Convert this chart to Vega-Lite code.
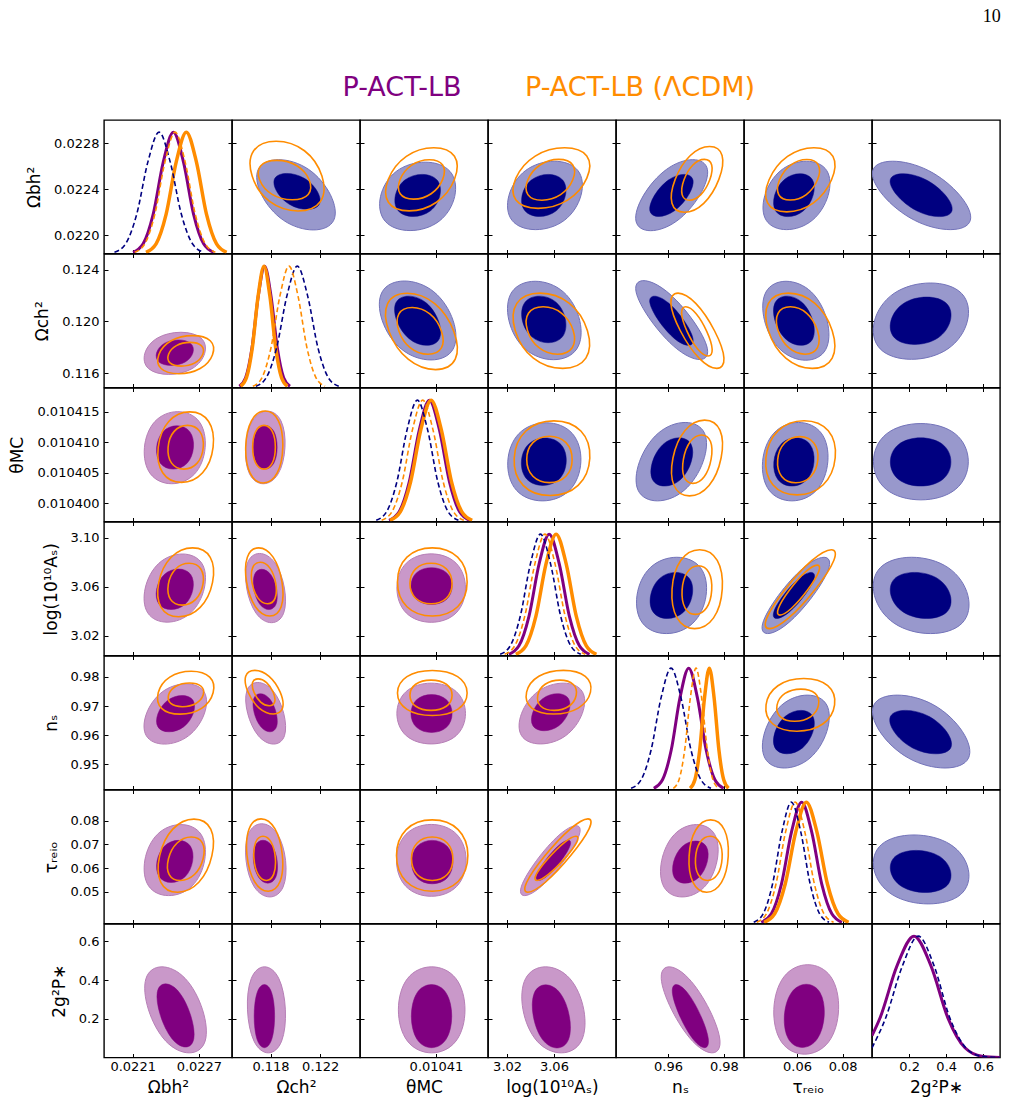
{
"$schema":"https://vega.github.io/schema/vega-lite/v6.json",
"background":"white",
"padding":{"left":8,"top":8,"right":5,"bottom":5},
"title":{"text":"10","anchor":"end","font":"Liberation Serif","fontSize":18,"fontWeight":"normal","color":"black","offset":30},
"config":{
 "view":{"stroke":"black","strokeWidth":1.4},
 "axis":{"offset":-4,"tickSize":8,"tickColor":"black","tickWidth":1,"domain":false,"grid":false,"labelFont":"DejaVu Sans","labelFontSize":13,"labelColor":"black","labelFlush":false,"labelOverlap":false,"titleFont":"DejaVu Sans","titleFontSize":17,"titleFontWeight":"normal","titleColor":"black"},
 "axisX":{"labelPadding":3,"titlePadding":6},
 "axisY":{"labelPadding":5,"titlePadding":10}
},
"datasets":{
"d1":[
{"s":"n","x":0.021935,"y":0.01},{"s":"n","x":0.022036,"y":0.08},{"s":"n","x":0.0221369,"y":0.325},{"s":"n","x":0.0222379,"y":0.755},{"s":"n","x":0.0223388,"y":1},{"s":"n","x":0.0224398,"y":0.755},{"s":"n","x":0.0225407,"y":0.325},{"s":"n","x":0.0226417,"y":0.08},{"s":"n","x":0.0227426,"y":0.01},
{"s":"p","x":0.0221033,"y":0.01},{"s":"p","x":0.0221947,"y":0.08},{"s":"p","x":0.022286,"y":0.325},{"s":"p","x":0.0223774,"y":0.755},{"s":"p","x":0.0224687,"y":1},{"s":"p","x":0.02256,"y":0.755},{"s":"p","x":0.0226514,"y":0.325},{"s":"p","x":0.0227428,"y":0.08},{"s":"p","x":0.0228341,"y":0.01},
{"s":"o","x":0.0222205,"y":0.01},{"s":"o","x":0.0223119,"y":0.08},{"s":"o","x":0.0224032,"y":0.325},{"s":"o","x":0.0224946,"y":0.755},{"s":"o","x":0.0225859,"y":1},{"s":"o","x":0.0226773,"y":0.755},{"s":"o","x":0.0227686,"y":0.325},{"s":"o","x":0.02286,"y":0.08},{"s":"o","x":0.0229513,"y":0.01},
{"s":"q","x":0.0221184,"y":0.01},{"s":"q","x":0.0222098,"y":0.08},{"s":"q","x":0.0223011,"y":0.325},{"s":"q","x":0.0223925,"y":0.755},{"s":"q","x":0.0224838,"y":1},{"s":"q","x":0.0225752,"y":0.755},{"s":"q","x":0.0226665,"y":0.325},{"s":"q","x":0.0227579,"y":0.08},{"s":"q","x":0.0228492,"y":0.01}],
"d2":[
{"s":"o","x":0.115591,"y":0.01},{"s":"o","x":0.116062,"y":0.08},{"s":"o","x":0.116533,"y":0.325},{"s":"o","x":0.117004,"y":0.755},{"s":"o","x":0.117475,"y":1},{"s":"o","x":0.117946,"y":0.755},{"s":"o","x":0.118417,"y":0.325},{"s":"o","x":0.118888,"y":0.08},{"s":"o","x":0.119359,"y":0.01},
{"s":"p","x":0.115487,"y":0.01},{"s":"p","x":0.115997,"y":0.08},{"s":"p","x":0.116507,"y":0.325},{"s":"p","x":0.117017,"y":0.755},{"s":"p","x":0.117527,"y":1},{"s":"p","x":0.118037,"y":0.755},{"s":"p","x":0.118547,"y":0.325},{"s":"p","x":0.119057,"y":0.08},{"s":"p","x":0.119567,"y":0.01},
{"s":"q","x":0.11658,"y":0.01},{"s":"q","x":0.117306,"y":0.08},{"s":"q","x":0.118032,"y":0.325},{"s":"q","x":0.118758,"y":0.755},{"s":"q","x":0.119484,"y":1},{"s":"q","x":0.12021,"y":0.755},{"s":"q","x":0.120936,"y":0.325},{"s":"q","x":0.121662,"y":0.08},{"s":"q","x":0.122388,"y":0.01},
{"s":"n","x":0.116817,"y":0.01},{"s":"n","x":0.117651,"y":0.08},{"s":"n","x":0.118485,"y":0.325},{"s":"n","x":0.119319,"y":0.755},{"s":"n","x":0.120153,"y":1},{"s":"n","x":0.120987,"y":0.755},{"s":"n","x":0.121821,"y":0.325},{"s":"n","x":0.122655,"y":0.08},{"s":"n","x":0.123489,"y":0.01}],
"d3":[
{"s":"n","x":0.01039978,"y":0.01},{"s":"n","x":0.01040154,"y":0.08},{"s":"n","x":0.0104033,"y":0.325},{"s":"n","x":0.01040505,"y":0.755},{"s":"n","x":0.01040681,"y":1},{"s":"n","x":0.01040857,"y":0.755},{"s":"n","x":0.01041032,"y":0.325},{"s":"n","x":0.01041208,"y":0.08},{"s":"n","x":0.01041384,"y":0.01},
{"s":"q","x":0.0104007,"y":0.01},{"s":"q","x":0.01040246,"y":0.08},{"s":"q","x":0.01040422,"y":0.325},{"s":"q","x":0.01040597,"y":0.755},{"s":"q","x":0.01040773,"y":1},{"s":"q","x":0.01040949,"y":0.755},{"s":"q","x":0.01041124,"y":0.325},{"s":"q","x":0.010413,"y":0.08},{"s":"q","x":0.01041476,"y":0.01},
{"s":"p","x":0.01040197,"y":0.01},{"s":"p","x":0.0104037,"y":0.08},{"s":"p","x":0.01040542,"y":0.325},{"s":"p","x":0.01040715,"y":0.755},{"s":"p","x":0.01040887,"y":1},{"s":"p","x":0.01041059,"y":0.755},{"s":"p","x":0.01041232,"y":0.325},{"s":"p","x":0.01041404,"y":0.08},{"s":"p","x":0.01041577,"y":0.01},
{"s":"o","x":0.01040213,"y":0.01},{"s":"o","x":0.01040389,"y":0.08},{"s":"o","x":0.01040565,"y":0.325},{"s":"o","x":0.0104074,"y":0.755},{"s":"o","x":0.01040916,"y":1},{"s":"o","x":0.01041092,"y":0.755},{"s":"o","x":0.01041267,"y":0.325},{"s":"o","x":0.01041443,"y":0.08},{"s":"o","x":0.01041619,"y":0.01}],
"d4":[
{"s":"n","x":3.01408,"y":0.01},{"s":"n","x":3.02269,"y":0.08},{"s":"n","x":3.0313,"y":0.325},{"s":"n","x":3.03991,"y":0.755},{"s":"n","x":3.04851,"y":1},{"s":"n","x":3.05712,"y":0.755},{"s":"n","x":3.06573,"y":0.325},{"s":"n","x":3.07434,"y":0.08},{"s":"n","x":3.08294,"y":0.01},
{"s":"q","x":3.01791,"y":0.01},{"s":"q","x":3.02652,"y":0.08},{"s":"q","x":3.03513,"y":0.325},{"s":"q","x":3.04373,"y":0.755},{"s":"q","x":3.05234,"y":1},{"s":"q","x":3.06095,"y":0.755},{"s":"q","x":3.06956,"y":0.325},{"s":"q","x":3.07816,"y":0.08},{"s":"q","x":3.08677,"y":0.01},
{"s":"p","x":3.02152,"y":0.01},{"s":"p","x":3.03012,"y":0.08},{"s":"p","x":3.03873,"y":0.325},{"s":"p","x":3.04734,"y":0.755},{"s":"p","x":3.05595,"y":1},{"s":"p","x":3.06455,"y":0.755},{"s":"p","x":3.07316,"y":0.325},{"s":"p","x":3.08177,"y":0.08},{"s":"p","x":3.09038,"y":0.01},
{"s":"o","x":3.02742,"y":0.01},{"s":"o","x":3.03603,"y":0.08},{"s":"o","x":3.04463,"y":0.325},{"s":"o","x":3.05324,"y":0.755},{"s":"o","x":3.06185,"y":1},{"s":"o","x":3.07046,"y":0.755},{"s":"o","x":3.07906,"y":0.325},{"s":"o","x":3.08767,"y":0.08},{"s":"o","x":3.09628,"y":0.01}],
"d5":[
{"s":"n","x":0.946805,"y":0.01},{"s":"n","x":0.950377,"y":0.08},{"s":"n","x":0.95395,"y":0.325},{"s":"n","x":0.957522,"y":0.755},{"s":"n","x":0.961094,"y":1},{"s":"n","x":0.964666,"y":0.755},{"s":"n","x":0.968239,"y":0.325},{"s":"n","x":0.971811,"y":0.08},{"s":"n","x":0.975383,"y":0.01},
{"s":"p","x":0.95491,"y":0.01},{"s":"p","x":0.958036,"y":0.08},{"s":"p","x":0.961162,"y":0.325},{"s":"p","x":0.964288,"y":0.755},{"s":"p","x":0.967414,"y":1},{"s":"p","x":0.97054,"y":0.755},{"s":"p","x":0.973666,"y":0.325},{"s":"p","x":0.976792,"y":0.08},{"s":"p","x":0.979918,"y":0.01},
{"s":"q","x":0.961919,"y":0.01},{"s":"q","x":0.963946,"y":0.08},{"s":"q","x":0.965972,"y":0.325},{"s":"q","x":0.967999,"y":0.755},{"s":"q","x":0.970025,"y":1},{"s":"q","x":0.972052,"y":0.755},{"s":"q","x":0.974078,"y":0.325},{"s":"q","x":0.976105,"y":0.08},{"s":"q","x":0.978131,"y":0.01},
{"s":"o","x":0.967918,"y":0.01},{"s":"o","x":0.969635,"y":0.08},{"s":"o","x":0.971353,"y":0.325},{"s":"o","x":0.97307,"y":0.755},{"s":"o","x":0.974788,"y":1},{"s":"o","x":0.976506,"y":0.755},{"s":"o","x":0.978223,"y":0.325},{"s":"o","x":0.979941,"y":0.08},{"s":"o","x":0.981658,"y":0.01}],
"d6":[
{"s":"n","x":0.04097,"y":0.01},{"s":"n","x":0.045101,"y":0.08},{"s":"n","x":0.049232,"y":0.325},{"s":"n","x":0.053363,"y":0.755},{"s":"n","x":0.057494,"y":1},{"s":"n","x":0.061625,"y":0.755},{"s":"n","x":0.065756,"y":0.325},{"s":"n","x":0.069887,"y":0.08},{"s":"n","x":0.074018,"y":0.01},
{"s":"q","x":0.04232,"y":0.01},{"s":"q","x":0.046535,"y":0.08},{"s":"q","x":0.05075,"y":0.325},{"s":"q","x":0.054965,"y":0.755},{"s":"q","x":0.05918,"y":1},{"s":"q","x":0.063395,"y":0.755},{"s":"q","x":0.06761,"y":0.325},{"s":"q","x":0.071825,"y":0.08},{"s":"q","x":0.07604,"y":0.01},
{"s":"p","x":0.044287,"y":0.01},{"s":"p","x":0.048713,"y":0.08},{"s":"p","x":0.053139,"y":0.325},{"s":"p","x":0.057564,"y":0.755},{"s":"p","x":0.06199,"y":1},{"s":"p","x":0.066416,"y":0.755},{"s":"p","x":0.070842,"y":0.325},{"s":"p","x":0.075267,"y":0.08},{"s":"p","x":0.079693,"y":0.01},
{"s":"o","x":0.045523,"y":0.01},{"s":"o","x":0.05016,"y":0.08},{"s":"o","x":0.054796,"y":0.325},{"s":"o","x":0.059433,"y":0.755},{"s":"o","x":0.064069,"y":1},{"s":"o","x":0.068706,"y":0.755},{"s":"o","x":0.073342,"y":0.325},{"s":"o","x":0.077979,"y":0.08},{"s":"o","x":0.082615,"y":0.01}],
"d7":[
{"s":"p","x":0,"y":0.18},{"s":"p","x":0.0431,"y":0.325},{"s":"p","x":0.1347,"y":0.755},{"s":"p","x":0.2263,"y":1},{"s":"p","x":0.3179,"y":0.755},{"s":"p","x":0.4095,"y":0.325},{"s":"p","x":0.5011,"y":0.08},{"s":"p","x":0.5927,"y":0.01},{"s":"p","x":0.69,"y":0},
{"s":"n","x":0,"y":0.08},{"s":"n","x":0.0735,"y":0.325},{"s":"n","x":0.1639,"y":0.755},{"s":"n","x":0.2493,"y":1},{"s":"n","x":0.3347,"y":0.755},{"s":"n","x":0.42,"y":0.325},{"s":"n","x":0.5054,"y":0.08},{"s":"n","x":0.5908,"y":0.01},{"s":"n","x":0.69,"y":0}],
"r1c2":[{"k":"a","i":0,"x":0.12155,"y":0.022683},{"k":"a","i":1,"x":0.1155,"y":0.022683},{"k":"a","i":2,"x":0.11855,"y":0.022017},{"k":"a","i":3,"x":0.1246,"y":0.022017},{"k":"b","i":0,"x":0.121015,"y":0.02255},{"k":"b","i":1,"x":0.117455,"y":0.02255},{"k":"b","i":2,"x":0.119249,"y":0.022209},{"k":"b","i":3,"x":0.122809,"y":0.022209},{"k":"c","i":0,"x":0.121429,"y":0.022843},{"k":"c","i":1,"x":0.115302,"y":0.022843},{"k":"c","i":2,"x":0.117229,"y":0.022182},{"k":"c","i":3,"x":0.123356,"y":0.022182},{"k":"d","i":0,"x":0.120615,"y":0.022665},{"k":"d","i":1,"x":0.116263,"y":0.022665},{"k":"d","i":2,"x":0.117631,"y":0.022291},{"k":"d","i":3,"x":0.121983,"y":0.022291}],
"r1c3":[{"k":"a","i":0,"x":0.01041519,"y":0.0226607},{"k":"a","i":1,"x":0.01040135,"y":0.0226607},{"k":"a","i":2,"x":0.01039853,"y":0.0220123},{"k":"a","i":3,"x":0.01041237,"y":0.0220123},{"k":"b","i":0,"x":0.01041186,"y":0.0225441},{"k":"b","i":1,"x":0.01040356,"y":0.0225441},{"k":"b","i":2,"x":0.01040186,"y":0.0221451},{"k":"b","i":3,"x":0.01041017,"y":0.0221451},{"k":"c","i":0,"x":0.01041599,"y":0.0227843},{"k":"c","i":1,"x":0.01040364,"y":0.0227843},{"k":"c","i":2,"x":0.01039903,"y":0.0221857},{"k":"c","i":3,"x":0.01041138,"y":0.0221857},{"k":"d","i":0,"x":0.01041296,"y":0.0226708},{"k":"d","i":1,"x":0.01040502,"y":0.0226708},{"k":"d","i":2,"x":0.01040206,"y":0.0222968},{"k":"d","i":3,"x":0.01041,"y":0.0222968}],
"r1c4":[{"k":"a","i":0,"x":3.09456,"y":0.0226688},{"k":"a","i":1,"x":3.02745,"y":0.0226688},{"k":"a","i":2,"x":3.01012,"y":0.0220204},{"k":"a","i":3,"x":3.07723,"y":0.0220204},{"k":"b","i":0,"x":3.07561,"y":0.0225441},{"k":"b","i":1,"x":3.03531,"y":0.0225441},{"k":"b","i":2,"x":3.02709,"y":0.0221451},{"k":"b","i":3,"x":3.06739,"y":0.0221451},{"k":"c","i":0,"x":3.10317,"y":0.0227822},{"k":"c","i":1,"x":3.03711,"y":0.0227822},{"k":"c","i":2,"x":3.01243,"y":0.0222086},{"k":"c","i":3,"x":3.07849,"y":0.0222086},{"k":"d","i":0,"x":3.08567,"y":0.0226736},{"k":"d","i":1,"x":3.04382,"y":0.0226736},{"k":"d","i":2,"x":3.02819,"y":0.022287},{"k":"d","i":3,"x":3.07004,"y":0.022287}],
"r1c5":[{"k":"a","i":0,"x":0.980488,"y":0.0226836},{"k":"a","i":1,"x":0.958585,"y":0.0226836},{"k":"a","i":2,"x":0.942158,"y":0.0220102},{"k":"a","i":3,"x":0.964061,"y":0.0220102},{"k":"b","i":0,"x":0.972812,"y":0.0225441},{"k":"b","i":1,"x":0.959577,"y":0.0225441},{"k":"b","i":2,"x":0.94965,"y":0.0221451},{"k":"b","i":3,"x":0.962885,"y":0.0221451},{"k":"c","i":0,"x":0.983843,"y":0.0227956},{"k":"c","i":1,"x":0.966787,"y":0.0227956},{"k":"c","i":2,"x":0.956939,"y":0.022172},{"k":"c","i":3,"x":0.973995,"y":0.022172},{"k":"d","i":0,"x":0.978283,"y":0.0226736},{"k":"d","i":1,"x":0.96822,"y":0.0226736},{"k":"d","i":2,"x":0.962409,"y":0.022287},{"k":"d","i":3,"x":0.972472,"y":0.022287}],
"r1c6":[{"k":"a","i":0,"x":0.079668,"y":0.0226688},{"k":"a","i":1,"x":0.04935,"y":0.0226688},{"k":"a","i":2,"x":0.039816,"y":0.0220204},{"k":"a","i":3,"x":0.070134,"y":0.0220204},{"k":"b","i":0,"x":0.07074,"y":0.0225502},{"k":"b","i":1,"x":0.052296,"y":0.0225502},{"k":"b","i":2,"x":0.046496,"y":0.0221436},{"k":"b","i":3,"x":0.06494,"y":0.0221436},{"k":"c","i":0,"x":0.082912,"y":0.0227846},{"k":"c","i":1,"x":0.052994,"y":0.0227846},{"k":"c","i":2,"x":0.039944,"y":0.022176},{"k":"c","i":3,"x":0.069862,"y":0.022176},{"k":"d","i":0,"x":0.073691,"y":0.0226723},{"k":"d","i":1,"x":0.055518,"y":0.0226723},{"k":"d","i":2,"x":0.047591,"y":0.0222883},{"k":"d","i":3,"x":0.065764,"y":0.0222883}],
"r1c7":[{"k":"a","i":0,"x":0.323403,"y":0.0226688},{"k":"a","i":1,"x":-0.127581,"y":0.0226688},{"k":"a","i":2,"x":0.210657,"y":0.0220204},{"k":"a","i":3,"x":0.661641,"y":0.0220204},{"k":"b","i":0,"x":0.300564,"y":0.0225502},{"k":"b","i":1,"x":0.015732,"y":0.0225502},{"k":"b","i":2,"x":0.229356,"y":0.0221436},{"k":"b","i":3,"x":0.514188,"y":0.0221436}],
"r2c3":[{"k":"a","i":0,"x":0.01041101,"y":0.123393},{"k":"a","i":1,"x":0.01039777,"y":0.123393},{"k":"a","i":2,"x":0.01040272,"y":0.116749},{"k":"a","i":3,"x":0.01041595,"y":0.116749},{"k":"b","i":0,"x":0.01040905,"y":0.122121},{"k":"b","i":1,"x":0.01040128,"y":0.122121},{"k":"b","i":2,"x":0.01040467,"y":0.117979},{"k":"b","i":3,"x":0.01041244,"y":0.117979},{"k":"c","i":0,"x":0.01041092,"y":0.122437},{"k":"c","i":1,"x":0.01039883,"y":0.122437},{"k":"c","i":2,"x":0.0104041,"y":0.116015},{"k":"c","i":3,"x":0.01041619,"y":0.116015},{"k":"d","i":0,"x":0.01040978,"y":0.121238},{"k":"d","i":1,"x":0.01040184,"y":0.121238},{"k":"d","i":2,"x":0.0104048,"y":0.117296},{"k":"d","i":3,"x":0.01041274,"y":0.117296}],
"r2c4":[{"k":"a","i":0,"x":3.07626,"y":0.123371},{"k":"a","i":1,"x":3.01028,"y":0.123371},{"k":"a","i":2,"x":3.02732,"y":0.116771},{"k":"a","i":3,"x":3.0933,"y":0.116771},{"k":"b","i":0,"x":3.06739,"y":0.122113},{"k":"b","i":1,"x":3.02709,"y":0.122113},{"k":"b","i":2,"x":3.03531,"y":0.118193},{"k":"b","i":3,"x":3.07561,"y":0.118193},{"k":"c","i":0,"x":3.08085,"y":0.122445},{"k":"c","i":1,"x":3.0136,"y":0.122445},{"k":"c","i":2,"x":3.03475,"y":0.116111},{"k":"c","i":3,"x":3.102,"y":0.116111},{"k":"d","i":0,"x":3.07153,"y":0.121291},{"k":"d","i":1,"x":3.02893,"y":0.121291},{"k":"d","i":2,"x":3.04233,"y":0.117305},{"k":"d","i":3,"x":3.08493,"y":0.117305}],
"r2c5":[{"k":"a","i":0,"x":0.958585,"y":0.123424},{"k":"a","i":1,"x":0.942158,"y":0.123424},{"k":"a","i":2,"x":0.964061,"y":0.11678},{"k":"a","i":3,"x":0.980488,"y":0.11678},{"k":"b","i":0,"x":0.959577,"y":0.122121},{"k":"b","i":1,"x":0.94965,"y":0.122121},{"k":"b","i":2,"x":0.962885,"y":0.117979},{"k":"b","i":3,"x":0.972812,"y":0.117979},{"k":"c","i":0,"x":0.969631,"y":0.122445},{"k":"c","i":1,"x":0.956286,"y":0.122445},{"k":"c","i":2,"x":0.971427,"y":0.116111},{"k":"c","i":3,"x":0.984772,"y":0.116111},{"k":"d","i":0,"x":0.969829,"y":0.121297},{"k":"d","i":1,"x":0.962148,"y":0.121297},{"k":"d","i":2,"x":0.970863,"y":0.117155},{"k":"d","i":3,"x":0.978544,"y":0.117155}],
"r2c6":[{"k":"a","i":0,"x":0.069735,"y":0.123372},{"k":"a","i":1,"x":0.039762,"y":0.123372},{"k":"a","i":2,"x":0.049187,"y":0.116728},{"k":"a","i":3,"x":0.07916,"y":0.116728},{"k":"b","i":0,"x":0.064293,"y":0.122121},{"k":"b","i":1,"x":0.046177,"y":0.122121},{"k":"b","i":2,"x":0.052943,"y":0.117979},{"k":"b","i":3,"x":0.071059,"y":0.117979},{"k":"c","i":0,"x":0.071004,"y":0.122445},{"k":"c","i":1,"x":0.040433,"y":0.122445},{"k":"c","i":2,"x":0.051852,"y":0.116111},{"k":"c","i":3,"x":0.082423,"y":0.116111},{"k":"d","i":0,"x":0.066227,"y":0.121291},{"k":"d","i":1,"x":0.047318,"y":0.121291},{"k":"d","i":2,"x":0.054381,"y":0.117305},{"k":"d","i":3,"x":0.07329,"y":0.117305}],
"r2c7":[{"k":"a","i":0,"x":0.59268,"y":0.12323},{"k":"a","i":1,"x":0.04604,"y":0.12323},{"k":"a","i":2,"x":-0.06552,"y":0.116808},{"k":"a","i":3,"x":0.48112,"y":0.116808},{"k":"b","i":0,"x":0.47226,"y":0.122043},{"k":"b","i":1,"x":0.12334,"y":0.122043},{"k":"b","i":2,"x":0.05214,"y":0.118057},{"k":"b","i":3,"x":0.40106,"y":0.118057}],
"r3c4":[{"k":"a","i":0,"x":3.08754,"y":0.01041378},{"k":"a","i":1,"x":3.01945,"y":0.01041378},{"k":"a","i":2,"x":3.01604,"y":0.0103998},{"k":"a","i":3,"x":3.08413,"y":0.0103998},{"k":"b","i":0,"x":3.07329,"y":0.01041105},{"k":"b","i":1,"x":3.0315,"y":0.01041105},{"k":"b","i":2,"x":3.02941,"y":0.01040257},{"k":"b","i":3,"x":3.0712,"y":0.01040257},{"k":"c","i":0,"x":3.09533,"y":0.01041407},{"k":"c","i":1,"x":3.0249,"y":0.01041407},{"k":"c","i":2,"x":3.02137,"y":0.0104007},{"k":"c","i":3,"x":3.0918,"y":0.0104007},{"k":"d","i":0,"x":3.07731,"y":0.01041132},{"k":"d","i":1,"x":3.03501,"y":0.01041132},{"k":"d","i":2,"x":3.03501,"y":0.01040304},{"k":"d","i":3,"x":3.07731,"y":0.01040304}],
"r3c5":[{"k":"a","i":0,"x":0.97902,"y":0.01041383},{"k":"a","i":1,"x":0.954185,"y":0.01041383},{"k":"a","i":2,"x":0.943352,"y":0.0103998},{"k":"a","i":3,"x":0.968187,"y":0.0103998},{"k":"b","i":0,"x":0.971762,"y":0.01041108},{"k":"b","i":1,"x":0.956629,"y":0.01041108},{"k":"b","i":2,"x":0.950976,"y":0.01040246},{"k":"b","i":3,"x":0.966109,"y":0.01040246},{"k":"c","i":0,"x":0.982741,"y":0.0104142},{"k":"c","i":1,"x":0.96395,"y":0.0104142},{"k":"c","i":2,"x":0.958041,"y":0.01040064},{"k":"c","i":3,"x":0.976832,"y":0.01040064},{"k":"d","i":0,"x":0.977584,"y":0.01041156},{"k":"d","i":1,"x":0.966779,"y":0.01041156},{"k":"d","i":2,"x":0.963382,"y":0.0104029},{"k":"d","i":3,"x":0.974187,"y":0.0104029}],
"r3c6":[{"k":"a","i":0,"x":0.076381,"y":0.01041383},{"k":"a","i":1,"x":0.04512,"y":0.01041383},{"k":"a","i":2,"x":0.041979,"y":0.0103998},{"k":"a","i":3,"x":0.07324,"y":0.0103998},{"k":"b","i":0,"x":0.069203,"y":0.01041108},{"k":"b","i":1,"x":0.049966,"y":0.01041108},{"k":"b","i":2,"x":0.048033,"y":0.01040246},{"k":"b","i":3,"x":0.06727,"y":0.01040246},{"k":"c","i":0,"x":0.0798,"y":0.01041409},{"k":"c","i":1,"x":0.046615,"y":0.01041409},{"k":"c","i":2,"x":0.04328,"y":0.01040081},{"k":"c","i":3,"x":0.076465,"y":0.01040081},{"k":"d","i":0,"x":0.070889,"y":0.01041126},{"k":"d","i":1,"x":0.051652,"y":0.01041126},{"k":"d","i":2,"x":0.049719,"y":0.01040302},{"k":"d","i":3,"x":0.068956,"y":0.01040302}],
"r3c7":[{"k":"a","i":0,"x":0.54248,"y":0.01041364},{"k":"a","i":1,"x":-0.01532,"y":0.01041364},{"k":"a","i":2,"x":-0.01532,"y":0.01039998},{"k":"a","i":3,"x":0.54248,"y":0.01039998},{"k":"b","i":0,"x":0.44022,"y":0.01041108},{"k":"b","i":1,"x":0.08418,"y":0.01041108},{"k":"b","i":2,"x":0.08418,"y":0.01040246},{"k":"b","i":3,"x":0.44022,"y":0.01040246}],
"r4c5":[{"k":"a","i":0,"x":0.976812,"y":3.08696},{"k":"a","i":1,"x":0.949834,"y":3.08696},{"k":"a","i":2,"x":0.945742,"y":3.01881},{"k":"a","i":3,"x":0.97272,"y":3.01881},{"k":"b","i":0,"x":0.970992,"y":3.07345},{"k":"b","i":1,"x":0.954779,"y":3.07345},{"k":"b","i":2,"x":0.95147,"y":3.03232},{"k":"b","i":3,"x":0.967683,"y":3.03232},{"k":"c","i":0,"x":0.981221,"y":3.09327},{"k":"c","i":1,"x":0.961623,"y":3.09327},{"k":"c","i":2,"x":0.959653,"y":3.02277},{"k":"c","i":3,"x":0.979251,"y":3.02277},{"k":"d","i":0,"x":0.976708,"y":3.079},{"k":"d","i":1,"x":0.965146,"y":3.079},{"k":"d","i":2,"x":0.963984,"y":3.03552},{"k":"d","i":3,"x":0.975546,"y":3.03552}],
"r4c6":[{"k":"a","i":0,"x":0.081259,"y":3.08696},{"k":"a","i":1,"x":0.064574,"y":3.08696},{"k":"a","i":2,"x":0.037663,"y":3.01881},{"k":"a","i":3,"x":0.054348,"y":3.01881},{"k":"b","i":0,"x":0.071929,"y":3.07345},{"k":"b","i":1,"x":0.06174,"y":3.07345},{"k":"b","i":2,"x":0.045307,"y":3.03232},{"k":"b","i":3,"x":0.055496,"y":3.03232},{"k":"c","i":0,"x":0.083465,"y":3.09327},{"k":"c","i":1,"x":0.069082,"y":3.09327},{"k":"c","i":2,"x":0.039391,"y":3.02277},{"k":"c","i":3,"x":0.053774,"y":3.02277},{"k":"d","i":0,"x":0.073879,"y":3.07958},{"k":"d","i":1,"x":0.065239,"y":3.07958},{"k":"d","i":2,"x":0.047403,"y":3.03493},{"k":"d","i":3,"x":0.056043,"y":3.03493}],
"r4c7":[{"k":"a","i":0,"x":0.483658,"y":3.08696},{"k":"a","i":1,"x":-0.065891,"y":3.08696},{"k":"a","i":2,"x":0.046262,"y":3.01881},{"k":"a","i":3,"x":0.595811,"y":3.01881},{"k":"b","i":0,"x":0.401056,"y":3.07345},{"k":"b","i":1,"x":0.052136,"y":3.07345},{"k":"b","i":2,"x":0.123344,"y":3.03232},{"k":"b","i":3,"x":0.472264,"y":3.03232}],
"r5c6":[{"k":"a","i":0,"x":0.079834,"y":0.974916},{"k":"a","i":1,"x":0.050169,"y":0.974916},{"k":"a","i":2,"x":0.039088,"y":0.947638},{"k":"a","i":3,"x":0.068753,"y":0.947638},{"k":"b","i":0,"x":0.071059,"y":0.969219},{"k":"b","i":1,"x":0.052943,"y":0.969219},{"k":"b","i":2,"x":0.046177,"y":0.952969},{"k":"b","i":3,"x":0.064293,"y":0.952969},{"k":"c","i":0,"x":0.07949,"y":0.980285},{"k":"c","i":1,"x":0.046665,"y":0.980285},{"k":"c","i":2,"x":0.043366,"y":0.960589},{"k":"c","i":3,"x":0.076191,"y":0.960589},{"k":"d","i":0,"x":0.071728,"y":0.976353},{"k":"d","i":1,"x":0.051889,"y":0.976353},{"k":"d","i":2,"x":0.04888,"y":0.964339},{"k":"d","i":3,"x":0.068719,"y":0.964339}],
"r5c7":[{"k":"a","i":0,"x":0.36758,"y":0.974916},{"k":"a","i":1,"x":-0.118042,"y":0.974916},{"k":"a","i":2,"x":0.16234,"y":0.947638},{"k":"a","i":3,"x":0.647962,"y":0.947638},{"k":"b","i":0,"x":0.327355,"y":0.969219},{"k":"b","i":1,"x":0.019025,"y":0.969219},{"k":"b","i":2,"x":0.197045,"y":0.952969},{"k":"b","i":3,"x":0.505375,"y":0.952969}],
"r6c7":[{"k":"a","i":0,"x":0.5002,"y":0.075291},{"k":"a","i":1,"x":-0.054395,"y":0.075291},{"k":"a","i":2,"x":0.02972,"y":0.043631},{"k":"a","i":3,"x":0.584315,"y":0.043631},{"k":"b","i":0,"x":0.411559,"y":0.068285},{"k":"b","i":1,"x":0.059435,"y":0.068285},{"k":"b","i":2,"x":0.112841,"y":0.048951},{"k":"b","i":3,"x":0.464965,"y":0.048951}],
"r2c1":[{"k":"a","i":0,"x":0.0228376,"y":0.119309},{"k":"a","i":1,"x":0.0222461,"y":0.119309},{"k":"a","i":2,"x":0.0221254,"y":0.115765},{"k":"a","i":3,"x":0.0227169,"y":0.115765},{"k":"b","i":0,"x":0.0226978,"y":0.118662},{"k":"b","i":1,"x":0.0223385,"y":0.118662},{"k":"b","i":2,"x":0.0222652,"y":0.116514},{"k":"b","i":3,"x":0.0226245,"y":0.116514},{"k":"c","i":0,"x":0.0229142,"y":0.11904},{"k":"c","i":1,"x":0.0223831,"y":0.11904},{"k":"c","i":2,"x":0.022246,"y":0.115828},{"k":"c","i":3,"x":0.0227771,"y":0.115828},{"k":"d","i":0,"x":0.0227928,"y":0.118462},{"k":"d","i":1,"x":0.0224547,"y":0.118462},{"k":"d","i":2,"x":0.0223674,"y":0.116468},{"k":"d","i":3,"x":0.0227055,"y":0.116468}],
"r3c1":[{"k":"a","i":0,"x":0.022812,"y":0.01041556},{"k":"a","i":1,"x":0.0222114,"y":0.01041556},{"k":"a","i":2,"x":0.022151,"y":0.01040266},{"k":"a","i":3,"x":0.0227516,"y":0.01040266},{"k":"b","i":0,"x":0.0226845,"y":0.01041303},{"k":"b","i":1,"x":0.0223197,"y":0.01041303},{"k":"b","i":2,"x":0.0222831,"y":0.01040527},{"k":"b","i":3,"x":0.0226479,"y":0.01040527},{"k":"c","i":0,"x":0.0228925,"y":0.01041551},{"k":"c","i":1,"x":0.02235,"y":0.01041551},{"k":"c","i":2,"x":0.0222677,"y":0.01040289},{"k":"c","i":3,"x":0.0228102,"y":0.01040289},{"k":"d","i":0,"x":0.0227713,"y":0.01041309},{"k":"d","i":1,"x":0.0224238,"y":0.01041309},{"k":"d","i":2,"x":0.0223889,"y":0.01040527},{"k":"d","i":3,"x":0.0227364,"y":0.01040527}],
"r3c2":[{"k":"a","i":0,"x":0.119481,"y":0.01041565},{"k":"a","i":1,"x":0.116022,"y":0.01041565},{"k":"a","i":2,"x":0.115675,"y":0.01040265},{"k":"a","i":3,"x":0.119134,"y":0.01040265},{"k":"b","i":0,"x":0.11862,"y":0.01041309},{"k":"b","i":1,"x":0.116516,"y":0.01041309},{"k":"b","i":2,"x":0.116516,"y":0.01040527},{"k":"b","i":3,"x":0.11862,"y":0.01040527},{"k":"c","i":0,"x":0.119204,"y":0.01041567},{"k":"c","i":1,"x":0.115951,"y":0.01041567},{"k":"c","i":2,"x":0.115788,"y":0.01040277},{"k":"c","i":3,"x":0.119041,"y":0.01040277},{"k":"d","i":0,"x":0.118472,"y":0.01041309},{"k":"d","i":1,"x":0.116478,"y":0.01041309},{"k":"d","i":2,"x":0.116478,"y":0.01040527},{"k":"d","i":3,"x":0.118472,"y":0.01040527}],
"r4c1":[{"k":"a","i":0,"x":0.0228491,"y":3.08933},{"k":"a","i":1,"x":0.0222648,"y":3.08933},{"k":"a","i":2,"x":0.0221139,"y":3.02846},{"k":"a","i":3,"x":0.0226982,"y":3.02846},{"k":"b","i":0,"x":0.0226978,"y":3.07601},{"k":"b","i":1,"x":0.0223385,"y":3.07601},{"k":"b","i":2,"x":0.0222652,"y":3.03982},{"k":"b","i":3,"x":0.0226245,"y":3.03982},{"k":"c","i":0,"x":0.0229142,"y":3.09438},{"k":"c","i":1,"x":0.0223831,"y":3.09438},{"k":"c","i":2,"x":0.022246,"y":3.03281},{"k":"c","i":3,"x":0.0227771,"y":3.03281},{"k":"d","i":0,"x":0.0227861,"y":3.08075},{"k":"d","i":1,"x":0.0224439,"y":3.08075},{"k":"d","i":2,"x":0.0223741,"y":3.04338},{"k":"d","i":3,"x":0.0227163,"y":3.04338}],
"r4c2":[{"k":"a","i":0,"x":0.118736,"y":3.0898},{"k":"a","i":1,"x":0.11542,"y":3.0898},{"k":"a","i":2,"x":0.116462,"y":3.02799},{"k":"a","i":3,"x":0.119778,"y":3.02799},{"k":"b","i":0,"x":0.118259,"y":3.07578},{"k":"b","i":1,"x":0.116273,"y":3.07578},{"k":"b","i":2,"x":0.116897,"y":3.03982},{"k":"b","i":3,"x":0.118883,"y":3.03982},{"k":"c","i":0,"x":0.118561,"y":3.09436},{"k":"c","i":1,"x":0.115454,"y":3.09436},{"k":"c","i":2,"x":0.116431,"y":3.03349},{"k":"c","i":3,"x":0.119538,"y":3.03349},{"k":"d","i":0,"x":0.118175,"y":3.08162},{"k":"d","i":1,"x":0.116104,"y":3.08162},{"k":"d","i":2,"x":0.116755,"y":3.04449},{"k":"d","i":3,"x":0.118826,"y":3.04449}],
"r4c3":[{"k":"a","i":0,"x":0.01041558,"y":3.08945},{"k":"a","i":1,"x":0.01040278,"y":3.08945},{"k":"a","i":2,"x":0.01040278,"y":3.02835},{"k":"a","i":3,"x":0.01041558,"y":3.02835},{"k":"b","i":0,"x":0.01041308,"y":3.07699},{"k":"b","i":1,"x":0.0104054,"y":3.07699},{"k":"b","i":2,"x":0.0104054,"y":3.04409},{"k":"b","i":3,"x":0.01041308,"y":3.04409},{"k":"c","i":0,"x":0.01041587,"y":3.09436},{"k":"c","i":1,"x":0.01040287,"y":3.09436},{"k":"c","i":2,"x":0.01040287,"y":3.03349},{"k":"c","i":3,"x":0.01041587,"y":3.03349},{"k":"d","i":0,"x":0.01041308,"y":3.08071},{"k":"d","i":1,"x":0.01040522,"y":3.08071},{"k":"d","i":2,"x":0.01040522,"y":3.04452},{"k":"d","i":3,"x":0.01041308,"y":3.04452}],
"r5c1":[{"k":"a","i":0,"x":0.0228793,"y":0.978599},{"k":"a","i":1,"x":0.0223068,"y":0.978599},{"k":"a","i":2,"x":0.0220929,"y":0.956047},{"k":"a","i":3,"x":0.0226654,"y":0.956047},{"k":"b","i":0,"x":0.0227275,"y":0.974209},{"k":"b","i":1,"x":0.0223793,"y":0.974209},{"k":"b","i":2,"x":0.0222493,"y":0.960619},{"k":"b","i":3,"x":0.0225975,"y":0.960619},{"k":"c","i":0,"x":0.0229067,"y":0.982631},{"k":"c","i":1,"x":0.0223642,"y":0.982631},{"k":"c","i":2,"x":0.0222535,"y":0.966579},{"k":"c","i":3,"x":0.022796,"y":0.966579},{"k":"d","i":0,"x":0.0227884,"y":0.978304},{"k":"d","i":1,"x":0.0224462,"y":0.978304},{"k":"d","i":2,"x":0.0223764,"y":0.96944},{"k":"d","i":3,"x":0.0227186,"y":0.96944}],
"r5c2":[{"k":"a","i":0,"x":0.118502,"y":0.979074},{"k":"a","i":1,"x":0.115335,"y":0.979074},{"k":"a","i":2,"x":0.116716,"y":0.95603},{"k":"a","i":3,"x":0.119883,"y":0.95603},{"k":"b","i":0,"x":0.118112,"y":0.974875},{"k":"b","i":1,"x":0.116183,"y":0.974875},{"k":"b","i":2,"x":0.117024,"y":0.960595},{"k":"b","i":3,"x":0.118953,"y":0.960595},{"k":"c","i":0,"x":0.118081,"y":0.982962},{"k":"c","i":1,"x":0.115261,"y":0.982962},{"k":"c","i":2,"x":0.116889,"y":0.966614},{"k":"c","i":3,"x":0.119709,"y":0.966614},{"k":"d","i":0,"x":0.1178,"y":0.979764},{"k":"d","i":1,"x":0.116113,"y":0.979764},{"k":"d","i":2,"x":0.117088,"y":0.96972},{"k":"d","i":3,"x":0.118775,"y":0.96972}],
"r5c3":[{"k":"a","i":0,"x":0.01041558,"y":0.978834},{"k":"a","i":1,"x":0.01040278,"y":0.978834},{"k":"a","i":2,"x":0.01040278,"y":0.956086},{"k":"a","i":3,"x":0.01041558,"y":0.956086},{"k":"b","i":0,"x":0.01041308,"y":0.974551},{"k":"b","i":1,"x":0.0104054,"y":0.974551},{"k":"b","i":2,"x":0.0104054,"y":0.960369},{"k":"b","i":3,"x":0.01041308,"y":0.960369},{"k":"c","i":0,"x":0.01041587,"y":0.982933},{"k":"c","i":1,"x":0.01040287,"y":0.982933},{"k":"c","i":2,"x":0.01040287,"y":0.966093},{"k":"c","i":3,"x":0.01041587,"y":0.966093},{"k":"d","i":0,"x":0.01041308,"y":0.979398},{"k":"d","i":1,"x":0.01040522,"y":0.979398},{"k":"d","i":2,"x":0.01040522,"y":0.968072},{"k":"d","i":3,"x":0.01041308,"y":0.968072}],
"r5c4":[{"k":"a","i":0,"x":3.09711,"y":0.978834},{"k":"a","i":1,"x":3.04052,"y":0.978834},{"k":"a","i":2,"x":3.01938,"y":0.956086},{"k":"a","i":3,"x":3.07597,"y":0.956086},{"k":"b","i":0,"x":3.08009,"y":0.974861},{"k":"b","i":1,"x":3.04684,"y":0.974861},{"k":"b","i":2,"x":3.03442,"y":0.960975},{"k":"b","i":3,"x":3.06767,"y":0.960975},{"k":"c","i":0,"x":3.09819,"y":0.982962},{"k":"c","i":1,"x":3.03869,"y":0.982962},{"k":"c","i":2,"x":3.02966,"y":0.966614},{"k":"c","i":3,"x":3.08916,"y":0.966614},{"k":"d","i":0,"x":3.08322,"y":0.979398},{"k":"d","i":1,"x":3.04743,"y":0.979398},{"k":"d","i":2,"x":3.042,"y":0.968072},{"k":"d","i":3,"x":3.07779,"y":0.968072}],
"r6c1":[{"k":"a","i":0,"x":0.0228376,"y":0.079708},{"k":"a","i":1,"x":0.0222461,"y":0.079708},{"k":"a","i":2,"x":0.0221254,"y":0.047082},{"k":"a","i":3,"x":0.0227169,"y":0.047082},{"k":"b","i":0,"x":0.0226934,"y":0.0725},{"k":"b","i":1,"x":0.0223414,"y":0.0725},{"k":"b","i":2,"x":0.0222696,"y":0.053166},{"k":"b","i":3,"x":0.0226216,"y":0.053166},{"k":"c","i":0,"x":0.0229205,"y":0.082047},{"k":"c","i":1,"x":0.0224042,"y":0.082047},{"k":"c","i":2,"x":0.0222419,"y":0.048453},{"k":"c","i":3,"x":0.0227582,"y":0.048453},{"k":"d","i":0,"x":0.0228064,"y":0.073926},{"k":"d","i":1,"x":0.0224637,"y":0.073926},{"k":"d","i":2,"x":0.022356,"y":0.053988},{"k":"d","i":3,"x":0.0226987,"y":0.053988}],
"r6c2":[{"k":"a","i":0,"x":0.119001,"y":0.08008},{"k":"a","i":1,"x":0.115528,"y":0.08008},{"k":"a","i":2,"x":0.116237,"y":0.046486},{"k":"a","i":3,"x":0.11971,"y":0.046486},{"k":"b","i":0,"x":0.118417,"y":0.072569},{"k":"b","i":1,"x":0.116334,"y":0.072569},{"k":"b","i":2,"x":0.116759,"y":0.052873},{"k":"b","i":3,"x":0.118842,"y":0.052873},{"k":"c","i":0,"x":0.118762,"y":0.082147},{"k":"c","i":1,"x":0.115659,"y":0.082147},{"k":"c","i":2,"x":0.116292,"y":0.048915},{"k":"c","i":3,"x":0.119395,"y":0.048915},{"k":"d","i":0,"x":0.118326,"y":0.074277},{"k":"d","i":1,"x":0.116443,"y":0.074277},{"k":"d","i":2,"x":0.116728,"y":0.053975},{"k":"d","i":3,"x":0.118611,"y":0.053975}],
"r6c3":[{"k":"a","i":0,"x":0.0104157,"y":0.079778},{"k":"a","i":1,"x":0.0104027,"y":0.079778},{"k":"a","i":2,"x":0.0104027,"y":0.046788},{"k":"a","i":3,"x":0.0104157,"y":0.046788},{"k":"b","i":0,"x":0.01041321,"y":0.072521},{"k":"b","i":1,"x":0.01040549,"y":0.072521},{"k":"b","i":2,"x":0.01040549,"y":0.052583},{"k":"b","i":3,"x":0.01041321,"y":0.052583},{"k":"c","i":0,"x":0.01041601,"y":0.08168},{"k":"c","i":1,"x":0.01040269,"y":0.08168},{"k":"c","i":2,"x":0.01040269,"y":0.048932},{"k":"c","i":3,"x":0.01041601,"y":0.048932},{"k":"d","i":0,"x":0.01041321,"y":0.073926},{"k":"d","i":1,"x":0.01040549,"y":0.073926},{"k":"d","i":2,"x":0.01040549,"y":0.053988},{"k":"d","i":3,"x":0.01041321,"y":0.053988}],
"r6c4":[{"k":"a","i":0,"x":3.09387,"y":0.079242},{"k":"a","i":1,"x":3.06797,"y":0.079242},{"k":"a","i":2,"x":3.01999,"y":0.047098},{"k":"a","i":3,"x":3.04589,"y":0.047098},{"k":"b","i":0,"x":3.08089,"y":0.072527},{"k":"b","i":1,"x":3.06593,"y":0.072527},{"k":"b","i":2,"x":3.03822,"y":0.054039},{"k":"b","i":3,"x":3.05318,"y":0.054039},{"k":"c","i":0,"x":3.10331,"y":0.082163},{"k":"c","i":1,"x":3.07945,"y":0.082163},{"k":"c","i":2,"x":3.02345,"y":0.048449},{"k":"c","i":3,"x":3.04731,"y":0.048449},{"k":"d","i":0,"x":3.08808,"y":0.074277},{"k":"d","i":1,"x":3.0726,"y":0.074277},{"k":"d","i":2,"x":3.03628,"y":0.053975},{"k":"d","i":3,"x":3.05175,"y":0.053975}],
"r6c5":[{"k":"a","i":0,"x":0.981257,"y":0.07973},{"k":"a","i":1,"x":0.959618,"y":0.07973},{"k":"a","i":2,"x":0.954029,"y":0.046498},{"k":"a","i":3,"x":0.975668,"y":0.046498},{"k":"b","i":0,"x":0.976655,"y":0.072219},{"k":"b","i":1,"x":0.963501,"y":0.072219},{"k":"b","i":2,"x":0.959365,"y":0.052885},{"k":"b","i":3,"x":0.972519,"y":0.052885},{"k":"c","i":0,"x":0.98297,"y":0.081697},{"k":"c","i":1,"x":0.967685,"y":0.081697},{"k":"c","i":2,"x":0.966148,"y":0.048465},{"k":"c","i":3,"x":0.981433,"y":0.048465},{"k":"d","i":0,"x":0.98032,"y":0.074277},{"k":"d","i":1,"x":0.969934,"y":0.074277},{"k":"d","i":2,"x":0.96889,"y":0.053975},{"k":"d","i":3,"x":0.979276,"y":0.053975}],
"r7c1":[{"k":"a","i":0,"x":0.022621,"y":0.488882},{"k":"a","i":1,"x":0.0220864,"y":0.488882},{"k":"a","i":2,"x":0.0223558,"y":0.003778},{"k":"a","i":3,"x":0.0228904,"y":0.003778},{"k":"b","i":0,"x":0.0225396,"y":0.39537},{"k":"b","i":1,"x":0.0222397,"y":0.39537},{"k":"b","i":2,"x":0.0224372,"y":0.03933},{"k":"b","i":3,"x":0.0227371,"y":0.03933}],
"r7c2":[{"k":"a","i":0,"x":0.119167,"y":0.488882},{"k":"a","i":1,"x":0.11584,"y":0.488882},{"k":"a","i":2,"x":0.116175,"y":0.003778},{"k":"a","i":3,"x":0.119502,"y":0.003778},{"k":"b","i":0,"x":0.118403,"y":0.39192},{"k":"b","i":1,"x":0.116609,"y":0.39192},{"k":"b","i":2,"x":0.116609,"y":0.03588},{"k":"b","i":3,"x":0.118403,"y":0.03588}],
"r7c3":[{"k":"a","i":0,"x":0.01041548,"y":0.488882},{"k":"a","i":1,"x":0.01040305,"y":0.488882},{"k":"a","i":2,"x":0.01040305,"y":0.003778},{"k":"a","i":3,"x":0.01041548,"y":0.003778},{"k":"b","i":0,"x":0.01041301,"y":0.39192},{"k":"b","i":1,"x":0.01040547,"y":0.39192},{"k":"b","i":2,"x":0.01040547,"y":0.03588},{"k":"b","i":3,"x":0.01041301,"y":0.03588}],
"r7c4":[{"k":"a","i":0,"x":3.08056,"y":0.488882},{"k":"a","i":1,"x":3.02392,"y":0.488882},{"k":"a","i":2,"x":3.03855,"y":0.003778},{"k":"a","i":3,"x":3.09519,"y":0.003778},{"k":"b","i":0,"x":3.06933,"y":0.39054},{"k":"b","i":1,"x":3.0357,"y":0.39054},{"k":"b","i":2,"x":3.04627,"y":0.0345},{"k":"b","i":3,"x":3.0799,"y":0.0345}],
"r7c5":[{"k":"a","i":0,"x":0.967106,"y":0.488882},{"k":"a","i":1,"x":0.95233,"y":0.488882},{"k":"a","i":2,"x":0.969096,"y":0.003778},{"k":"a","i":3,"x":0.983872,"y":0.003778},{"k":"b","i":0,"x":0.966631,"y":0.39192},{"k":"b","i":1,"x":0.958358,"y":0.39192},{"k":"b","i":2,"x":0.969389,"y":0.03588},{"k":"b","i":3,"x":0.977662,"y":0.03588}],
"r7c6":[{"k":"a","i":0,"x":0.080302,"y":0.500595},{"k":"a","i":1,"x":0.049277,"y":0.500595},{"k":"a","i":2,"x":0.047724,"y":-0.003795},{"k":"a","i":3,"x":0.078749,"y":-0.003795},{"k":"b","i":0,"x":0.07369,"y":0.3933},{"k":"b","i":1,"x":0.054572,"y":0.3933},{"k":"b","i":2,"x":0.05265,"y":0.03726},{"k":"b","i":3,"x":0.071768,"y":0.03726}]
},
"spacing":0,
"bounds":"flush",
"vconcat":[
{"width":714,"height":64,"view":{"stroke":null},
 "data":{"values":[{"t":"P-ACT-LB"},{"t":"P-ACT-LB (ΛCDM)"}]},
 "mark":{"type":"text","font":"DejaVu Sans","fontSize":27,"baseline":"middle","align":"center"},
 "encoding":{"x":{"field":"t","type":"nominal","sort":null,"scale":{"type":"point","padding":1,"align":0.626},"axis":null},
  "text":{"field":"t"},
  "color":{"field":"t","type":"nominal","sort":null,"scale":{"range":["#800080","#ff8c00"]},"legend":null}}},
{"columns":7,"spacing":0,"bounds":"flush","concat":[
{"width":128,"height":133.5,"data":{"name":"d1"},"resolve":{"scale":{"y":"independent"}},"encoding":{"x":{"field":"x","type":"quantitative","scale":{"domain":[0.02184,0.023]},"axis":{"values":[0.0221,0.0227],"labels":false,"title":null}},"y":{"field":"y","type":"quantitative","scale":{"domain":[0,1.1]},"axis":null}},"layer":[
 {"transform":[{"filter":"datum.s=='p'"}],"mark":{"type":"line","interpolate":"monotone","stroke":"#800080","strokeWidth":3,"clip":true}},
 {"transform":[{"filter":"datum.s=='o'"}],"mark":{"type":"line","interpolate":"monotone","stroke":"#ff8c00","strokeWidth":3.5,"clip":true}},
 {"transform":[{"filter":"datum.s=='n'"}],"mark":{"type":"line","interpolate":"monotone","stroke":"#000080","strokeWidth":1.6,"strokeDash":[5,3],"clip":true}},
 {"transform":[{"filter":"datum.s=='q'"}],"mark":{"type":"line","interpolate":"monotone","stroke":"#ff8c00","strokeWidth":1.6,"strokeDash":[5,3],"clip":true}},
 {"data":{"values":[{"x":0.0224,"v":0.0224}]},"mark":{"type":"point","opacity":0},"encoding":{"y":{"field":"v","type":"quantitative","scale":{"domain":[0.02184,0.023]},"axis":{"values":[0.022,0.0224,0.0228],"format":".4f","title":"Ωbh²","tickSize":4}}}}]},
{"width":128,"height":133.5,"data":{"name":"r1c2"},"encoding":{"x":{"field":"x","type":"quantitative","scale":{"domain":[0.1149,0.1252]},"axis":{"values":[0.118,0.122],"labels":false,"title":null}},"y":{"field":"y","type":"quantitative","scale":{"domain":[0.02184,0.023]},"axis":{"values":[0.022,0.0224,0.0228],"labels":false,"title":null}},"order":{"field":"i"}},"layer":[{"transform":[{"filter":"datum.k=='a'"}],"mark":{"type":"line","interpolate":"basis-closed","fill":"#9898cc","stroke":"#7373b9","strokeWidth":1,"clip":true}},{"transform":[{"filter":"datum.k=='b'"}],"mark":{"type":"line","interpolate":"basis-closed","fill":"#000080","stroke":"#000080","strokeWidth":0.5,"clip":true}},{"transform":[{"filter":"datum.k>'b'"}],"mark":{"type":"line","interpolate":"basis-closed","stroke":"#ff8c00","strokeWidth":1.6,"clip":true},"encoding":{"detail":{"field":"k"}}}]},
{"width":128,"height":133.5,"data":{"name":"r1c3"},"encoding":{"x":{"field":"x","type":"quantitative","scale":{"domain":[0.010397,0.0104189]},"axis":{"values":[0.01041],"labels":false,"title":null}},"y":{"field":"y","type":"quantitative","scale":{"domain":[0.02184,0.023]},"axis":{"values":[0.022,0.0224,0.0228],"labels":false,"title":null}},"order":{"field":"i"}},"layer":[{"transform":[{"filter":"datum.k=='a'"}],"mark":{"type":"line","interpolate":"basis-closed","fill":"#9898cc","stroke":"#7373b9","strokeWidth":1,"clip":true}},{"transform":[{"filter":"datum.k=='b'"}],"mark":{"type":"line","interpolate":"basis-closed","fill":"#000080","stroke":"#000080","strokeWidth":0.5,"clip":true}},{"transform":[{"filter":"datum.k>'b'"}],"mark":{"type":"line","interpolate":"basis-closed","stroke":"#ff8c00","strokeWidth":1.6,"clip":true},"encoding":{"detail":{"field":"k"}}}]},
{"width":128,"height":133.5,"data":{"name":"r1c4"},"encoding":{"x":{"field":"x","type":"quantitative","scale":{"domain":[3.0037,3.113]},"axis":{"values":[3.02,3.06],"labels":false,"title":null}},"y":{"field":"y","type":"quantitative","scale":{"domain":[0.02184,0.023]},"axis":{"values":[0.022,0.0224,0.0228],"labels":false,"title":null}},"order":{"field":"i"}},"layer":[{"transform":[{"filter":"datum.k=='a'"}],"mark":{"type":"line","interpolate":"basis-closed","fill":"#9898cc","stroke":"#7373b9","strokeWidth":1,"clip":true}},{"transform":[{"filter":"datum.k=='b'"}],"mark":{"type":"line","interpolate":"basis-closed","fill":"#000080","stroke":"#000080","strokeWidth":0.5,"clip":true}},{"transform":[{"filter":"datum.k>'b'"}],"mark":{"type":"line","interpolate":"basis-closed","stroke":"#ff8c00","strokeWidth":1.6,"clip":true},"encoding":{"detail":{"field":"k"}}}]},
{"width":128,"height":133.5,"data":{"name":"r1c5"},"encoding":{"x":{"field":"x","type":"quantitative","scale":{"domain":[0.9414,0.9872]},"axis":{"values":[0.96,0.98],"labels":false,"title":null}},"y":{"field":"y","type":"quantitative","scale":{"domain":[0.02184,0.023]},"axis":{"values":[0.022,0.0224,0.0228],"labels":false,"title":null}},"order":{"field":"i"}},"layer":[{"transform":[{"filter":"datum.k=='a'"}],"mark":{"type":"line","interpolate":"basis-closed","fill":"#9898cc","stroke":"#7373b9","strokeWidth":1,"clip":true}},{"transform":[{"filter":"datum.k=='b'"}],"mark":{"type":"line","interpolate":"basis-closed","fill":"#000080","stroke":"#000080","strokeWidth":0.5,"clip":true}},{"transform":[{"filter":"datum.k>'b'"}],"mark":{"type":"line","interpolate":"basis-closed","stroke":"#ff8c00","strokeWidth":1.6,"clip":true},"encoding":{"detail":{"field":"k"}}}]},
{"width":128,"height":133.5,"data":{"name":"r1c6"},"encoding":{"x":{"field":"x","type":"quantitative","scale":{"domain":[0.0367,0.0929]},"axis":{"values":[0.06,0.08],"labels":false,"title":null}},"y":{"field":"y","type":"quantitative","scale":{"domain":[0.02184,0.023]},"axis":{"values":[0.022,0.0224,0.0228],"labels":false,"title":null}},"order":{"field":"i"}},"layer":[{"transform":[{"filter":"datum.k=='a'"}],"mark":{"type":"line","interpolate":"basis-closed","fill":"#9898cc","stroke":"#7373b9","strokeWidth":1,"clip":true}},{"transform":[{"filter":"datum.k=='b'"}],"mark":{"type":"line","interpolate":"basis-closed","fill":"#000080","stroke":"#000080","strokeWidth":0.5,"clip":true}},{"transform":[{"filter":"datum.k>'b'"}],"mark":{"type":"line","interpolate":"basis-closed","stroke":"#ff8c00","strokeWidth":1.6,"clip":true},"encoding":{"detail":{"field":"k"}}}]},
{"width":128,"height":133.5,"data":{"name":"r1c7"},"encoding":{"x":{"field":"x","type":"quantitative","scale":{"domain":[0,0.69]},"axis":{"values":[0.2,0.4,0.6],"labels":false,"title":null}},"y":{"field":"y","type":"quantitative","scale":{"domain":[0.02184,0.023]},"axis":{"values":[0.022,0.0224,0.0228],"labels":false,"title":null}},"order":{"field":"i"}},"layer":[{"transform":[{"filter":"datum.k=='a'"}],"mark":{"type":"line","interpolate":"basis-closed","fill":"#9898cc","stroke":"#7373b9","strokeWidth":1,"clip":true}},{"transform":[{"filter":"datum.k=='b'"}],"mark":{"type":"line","interpolate":"basis-closed","fill":"#000080","stroke":"#000080","strokeWidth":0.5,"clip":true}}]},

{"width":128,"height":133.5,"data":{"name":"r2c1"},"encoding":{"x":{"field":"x","type":"quantitative","scale":{"domain":[0.02184,0.023]},"axis":{"values":[0.0221,0.0227],"labels":false,"title":null}},"y":{"field":"y","type":"quantitative","scale":{"domain":[0.1149,0.1252]},"axis":{"values":[0.116,0.12,0.124],"format":".3f","title":"Ωch²","tickSize":4}},"order":{"field":"i"}},"layer":[{"transform":[{"filter":"datum.k=='a'"}],"mark":{"type":"line","interpolate":"basis-closed","fill":"#c998c9","stroke":"#b67fb6","strokeWidth":1,"clip":true}},{"transform":[{"filter":"datum.k=='b'"}],"mark":{"type":"line","interpolate":"basis-closed","fill":"#800080","stroke":"#800080","strokeWidth":0.5,"clip":true}},{"transform":[{"filter":"datum.k>'b'"}],"mark":{"type":"line","interpolate":"basis-closed","stroke":"#ff8c00","strokeWidth":1.6,"clip":true},"encoding":{"detail":{"field":"k"}}}]},
{"width":128,"height":133.5,"data":{"name":"d2"},"encoding":{"x":{"field":"x","type":"quantitative","scale":{"domain":[0.1149,0.1252]},"axis":{"values":[0.118,0.122],"labels":false,"title":null}},"y":{"field":"y","type":"quantitative","scale":{"domain":[0,1.1]},"axis":null}},"layer":[
 {"transform":[{"filter":"datum.s=='p'"}],"mark":{"type":"line","interpolate":"monotone","stroke":"#800080","strokeWidth":3,"clip":true}},
 {"transform":[{"filter":"datum.s=='o'"}],"mark":{"type":"line","interpolate":"monotone","stroke":"#ff8c00","strokeWidth":3.5,"clip":true}},
 {"transform":[{"filter":"datum.s=='n'"}],"mark":{"type":"line","interpolate":"monotone","stroke":"#000080","strokeWidth":1.6,"strokeDash":[5,3],"clip":true}},
 {"transform":[{"filter":"datum.s=='q'"}],"mark":{"type":"line","interpolate":"monotone","stroke":"#ff8c00","strokeWidth":1.6,"strokeDash":[5,3],"clip":true}}]},
{"width":128,"height":133.5,"data":{"name":"r2c3"},"encoding":{"x":{"field":"x","type":"quantitative","scale":{"domain":[0.010397,0.0104189]},"axis":{"values":[0.01041],"labels":false,"title":null}},"y":{"field":"y","type":"quantitative","scale":{"domain":[0.1149,0.1252]},"axis":{"values":[0.116,0.12,0.124],"labels":false,"title":null}},"order":{"field":"i"}},"layer":[{"transform":[{"filter":"datum.k=='a'"}],"mark":{"type":"line","interpolate":"basis-closed","fill":"#9898cc","stroke":"#7373b9","strokeWidth":1,"clip":true}},{"transform":[{"filter":"datum.k=='b'"}],"mark":{"type":"line","interpolate":"basis-closed","fill":"#000080","stroke":"#000080","strokeWidth":0.5,"clip":true}},{"transform":[{"filter":"datum.k>'b'"}],"mark":{"type":"line","interpolate":"basis-closed","stroke":"#ff8c00","strokeWidth":1.6,"clip":true},"encoding":{"detail":{"field":"k"}}}]},
{"width":128,"height":133.5,"data":{"name":"r2c4"},"encoding":{"x":{"field":"x","type":"quantitative","scale":{"domain":[3.0037,3.113]},"axis":{"values":[3.02,3.06],"labels":false,"title":null}},"y":{"field":"y","type":"quantitative","scale":{"domain":[0.1149,0.1252]},"axis":{"values":[0.116,0.12,0.124],"labels":false,"title":null}},"order":{"field":"i"}},"layer":[{"transform":[{"filter":"datum.k=='a'"}],"mark":{"type":"line","interpolate":"basis-closed","fill":"#9898cc","stroke":"#7373b9","strokeWidth":1,"clip":true}},{"transform":[{"filter":"datum.k=='b'"}],"mark":{"type":"line","interpolate":"basis-closed","fill":"#000080","stroke":"#000080","strokeWidth":0.5,"clip":true}},{"transform":[{"filter":"datum.k>'b'"}],"mark":{"type":"line","interpolate":"basis-closed","stroke":"#ff8c00","strokeWidth":1.6,"clip":true},"encoding":{"detail":{"field":"k"}}}]},
{"width":128,"height":133.5,"data":{"name":"r2c5"},"encoding":{"x":{"field":"x","type":"quantitative","scale":{"domain":[0.9414,0.9872]},"axis":{"values":[0.96,0.98],"labels":false,"title":null}},"y":{"field":"y","type":"quantitative","scale":{"domain":[0.1149,0.1252]},"axis":{"values":[0.116,0.12,0.124],"labels":false,"title":null}},"order":{"field":"i"}},"layer":[{"transform":[{"filter":"datum.k=='a'"}],"mark":{"type":"line","interpolate":"basis-closed","fill":"#9898cc","stroke":"#7373b9","strokeWidth":1,"clip":true}},{"transform":[{"filter":"datum.k=='b'"}],"mark":{"type":"line","interpolate":"basis-closed","fill":"#000080","stroke":"#000080","strokeWidth":0.5,"clip":true}},{"transform":[{"filter":"datum.k>'b'"}],"mark":{"type":"line","interpolate":"basis-closed","stroke":"#ff8c00","strokeWidth":1.6,"clip":true},"encoding":{"detail":{"field":"k"}}}]},
{"width":128,"height":133.5,"data":{"name":"r2c6"},"encoding":{"x":{"field":"x","type":"quantitative","scale":{"domain":[0.0367,0.0929]},"axis":{"values":[0.06,0.08],"labels":false,"title":null}},"y":{"field":"y","type":"quantitative","scale":{"domain":[0.1149,0.1252]},"axis":{"values":[0.116,0.12,0.124],"labels":false,"title":null}},"order":{"field":"i"}},"layer":[{"transform":[{"filter":"datum.k=='a'"}],"mark":{"type":"line","interpolate":"basis-closed","fill":"#9898cc","stroke":"#7373b9","strokeWidth":1,"clip":true}},{"transform":[{"filter":"datum.k=='b'"}],"mark":{"type":"line","interpolate":"basis-closed","fill":"#000080","stroke":"#000080","strokeWidth":0.5,"clip":true}},{"transform":[{"filter":"datum.k>'b'"}],"mark":{"type":"line","interpolate":"basis-closed","stroke":"#ff8c00","strokeWidth":1.6,"clip":true},"encoding":{"detail":{"field":"k"}}}]},
{"width":128,"height":133.5,"data":{"name":"r2c7"},"encoding":{"x":{"field":"x","type":"quantitative","scale":{"domain":[0,0.69]},"axis":{"values":[0.2,0.4,0.6],"labels":false,"title":null}},"y":{"field":"y","type":"quantitative","scale":{"domain":[0.1149,0.1252]},"axis":{"values":[0.116,0.12,0.124],"labels":false,"title":null}},"order":{"field":"i"}},"layer":[{"transform":[{"filter":"datum.k=='a'"}],"mark":{"type":"line","interpolate":"basis-closed","fill":"#9898cc","stroke":"#7373b9","strokeWidth":1,"clip":true}},{"transform":[{"filter":"datum.k=='b'"}],"mark":{"type":"line","interpolate":"basis-closed","fill":"#000080","stroke":"#000080","strokeWidth":0.5,"clip":true}}]},

{"width":128,"height":133.5,"data":{"name":"r3c1"},"encoding":{"x":{"field":"x","type":"quantitative","scale":{"domain":[0.02184,0.023]},"axis":{"values":[0.0221,0.0227],"labels":false,"title":null}},"y":{"field":"y","type":"quantitative","scale":{"domain":[0.010397,0.0104189]},"axis":{"values":[0.0104,0.010405,0.01041,0.010415],"format":".6f","title":"θMC","tickSize":4}},"order":{"field":"i"}},"layer":[{"transform":[{"filter":"datum.k=='a'"}],"mark":{"type":"line","interpolate":"basis-closed","fill":"#c998c9","stroke":"#b67fb6","strokeWidth":1,"clip":true}},{"transform":[{"filter":"datum.k=='b'"}],"mark":{"type":"line","interpolate":"basis-closed","fill":"#800080","stroke":"#800080","strokeWidth":0.5,"clip":true}},{"transform":[{"filter":"datum.k>'b'"}],"mark":{"type":"line","interpolate":"basis-closed","stroke":"#ff8c00","strokeWidth":1.6,"clip":true},"encoding":{"detail":{"field":"k"}}}]},
{"width":128,"height":133.5,"data":{"name":"r3c2"},"encoding":{"x":{"field":"x","type":"quantitative","scale":{"domain":[0.1149,0.1252]},"axis":{"values":[0.118,0.122],"labels":false,"title":null}},"y":{"field":"y","type":"quantitative","scale":{"domain":[0.010397,0.0104189]},"axis":{"values":[0.0104,0.010405,0.01041,0.010415],"labels":false,"title":null}},"order":{"field":"i"}},"layer":[{"transform":[{"filter":"datum.k=='a'"}],"mark":{"type":"line","interpolate":"basis-closed","fill":"#c998c9","stroke":"#b67fb6","strokeWidth":1,"clip":true}},{"transform":[{"filter":"datum.k=='b'"}],"mark":{"type":"line","interpolate":"basis-closed","fill":"#800080","stroke":"#800080","strokeWidth":0.5,"clip":true}},{"transform":[{"filter":"datum.k>'b'"}],"mark":{"type":"line","interpolate":"basis-closed","stroke":"#ff8c00","strokeWidth":1.6,"clip":true},"encoding":{"detail":{"field":"k"}}}]},
{"width":128,"height":133.5,"data":{"name":"d3"},"encoding":{"x":{"field":"x","type":"quantitative","scale":{"domain":[0.010397,0.0104189]},"axis":{"values":[0.01041],"labels":false,"title":null}},"y":{"field":"y","type":"quantitative","scale":{"domain":[0,1.1]},"axis":null}},"layer":[
 {"transform":[{"filter":"datum.s=='p'"}],"mark":{"type":"line","interpolate":"monotone","stroke":"#800080","strokeWidth":3,"clip":true}},
 {"transform":[{"filter":"datum.s=='o'"}],"mark":{"type":"line","interpolate":"monotone","stroke":"#ff8c00","strokeWidth":3.5,"clip":true}},
 {"transform":[{"filter":"datum.s=='n'"}],"mark":{"type":"line","interpolate":"monotone","stroke":"#000080","strokeWidth":1.6,"strokeDash":[5,3],"clip":true}},
 {"transform":[{"filter":"datum.s=='q'"}],"mark":{"type":"line","interpolate":"monotone","stroke":"#ff8c00","strokeWidth":1.6,"strokeDash":[5,3],"clip":true}}]},
{"width":128,"height":133.5,"data":{"name":"r3c4"},"encoding":{"x":{"field":"x","type":"quantitative","scale":{"domain":[3.0037,3.113]},"axis":{"values":[3.02,3.06],"labels":false,"title":null}},"y":{"field":"y","type":"quantitative","scale":{"domain":[0.010397,0.0104189]},"axis":{"values":[0.0104,0.010405,0.01041,0.010415],"labels":false,"title":null}},"order":{"field":"i"}},"layer":[{"transform":[{"filter":"datum.k=='a'"}],"mark":{"type":"line","interpolate":"basis-closed","fill":"#9898cc","stroke":"#7373b9","strokeWidth":1,"clip":true}},{"transform":[{"filter":"datum.k=='b'"}],"mark":{"type":"line","interpolate":"basis-closed","fill":"#000080","stroke":"#000080","strokeWidth":0.5,"clip":true}},{"transform":[{"filter":"datum.k>'b'"}],"mark":{"type":"line","interpolate":"basis-closed","stroke":"#ff8c00","strokeWidth":1.6,"clip":true},"encoding":{"detail":{"field":"k"}}}]},
{"width":128,"height":133.5,"data":{"name":"r3c5"},"encoding":{"x":{"field":"x","type":"quantitative","scale":{"domain":[0.9414,0.9872]},"axis":{"values":[0.96,0.98],"labels":false,"title":null}},"y":{"field":"y","type":"quantitative","scale":{"domain":[0.010397,0.0104189]},"axis":{"values":[0.0104,0.010405,0.01041,0.010415],"labels":false,"title":null}},"order":{"field":"i"}},"layer":[{"transform":[{"filter":"datum.k=='a'"}],"mark":{"type":"line","interpolate":"basis-closed","fill":"#9898cc","stroke":"#7373b9","strokeWidth":1,"clip":true}},{"transform":[{"filter":"datum.k=='b'"}],"mark":{"type":"line","interpolate":"basis-closed","fill":"#000080","stroke":"#000080","strokeWidth":0.5,"clip":true}},{"transform":[{"filter":"datum.k>'b'"}],"mark":{"type":"line","interpolate":"basis-closed","stroke":"#ff8c00","strokeWidth":1.6,"clip":true},"encoding":{"detail":{"field":"k"}}}]},
{"width":128,"height":133.5,"data":{"name":"r3c6"},"encoding":{"x":{"field":"x","type":"quantitative","scale":{"domain":[0.0367,0.0929]},"axis":{"values":[0.06,0.08],"labels":false,"title":null}},"y":{"field":"y","type":"quantitative","scale":{"domain":[0.010397,0.0104189]},"axis":{"values":[0.0104,0.010405,0.01041,0.010415],"labels":false,"title":null}},"order":{"field":"i"}},"layer":[{"transform":[{"filter":"datum.k=='a'"}],"mark":{"type":"line","interpolate":"basis-closed","fill":"#9898cc","stroke":"#7373b9","strokeWidth":1,"clip":true}},{"transform":[{"filter":"datum.k=='b'"}],"mark":{"type":"line","interpolate":"basis-closed","fill":"#000080","stroke":"#000080","strokeWidth":0.5,"clip":true}},{"transform":[{"filter":"datum.k>'b'"}],"mark":{"type":"line","interpolate":"basis-closed","stroke":"#ff8c00","strokeWidth":1.6,"clip":true},"encoding":{"detail":{"field":"k"}}}]},
{"width":128,"height":133.5,"data":{"name":"r3c7"},"encoding":{"x":{"field":"x","type":"quantitative","scale":{"domain":[0,0.69]},"axis":{"values":[0.2,0.4,0.6],"labels":false,"title":null}},"y":{"field":"y","type":"quantitative","scale":{"domain":[0.010397,0.0104189]},"axis":{"values":[0.0104,0.010405,0.01041,0.010415],"labels":false,"title":null}},"order":{"field":"i"}},"layer":[{"transform":[{"filter":"datum.k=='a'"}],"mark":{"type":"line","interpolate":"basis-closed","fill":"#9898cc","stroke":"#7373b9","strokeWidth":1,"clip":true}},{"transform":[{"filter":"datum.k=='b'"}],"mark":{"type":"line","interpolate":"basis-closed","fill":"#000080","stroke":"#000080","strokeWidth":0.5,"clip":true}}]},

{"width":128,"height":133.5,"data":{"name":"r4c1"},"encoding":{"x":{"field":"x","type":"quantitative","scale":{"domain":[0.02184,0.023]},"axis":{"values":[0.0221,0.0227],"labels":false,"title":null}},"y":{"field":"y","type":"quantitative","scale":{"domain":[3.0037,3.113]},"axis":{"values":[3.02,3.06,3.1],"format":".2f","title":"log(10¹⁰Aₛ)","tickSize":4}},"order":{"field":"i"}},"layer":[{"transform":[{"filter":"datum.k=='a'"}],"mark":{"type":"line","interpolate":"basis-closed","fill":"#c998c9","stroke":"#b67fb6","strokeWidth":1,"clip":true}},{"transform":[{"filter":"datum.k=='b'"}],"mark":{"type":"line","interpolate":"basis-closed","fill":"#800080","stroke":"#800080","strokeWidth":0.5,"clip":true}},{"transform":[{"filter":"datum.k>'b'"}],"mark":{"type":"line","interpolate":"basis-closed","stroke":"#ff8c00","strokeWidth":1.6,"clip":true},"encoding":{"detail":{"field":"k"}}}]},
{"width":128,"height":133.5,"data":{"name":"r4c2"},"encoding":{"x":{"field":"x","type":"quantitative","scale":{"domain":[0.1149,0.1252]},"axis":{"values":[0.118,0.122],"labels":false,"title":null}},"y":{"field":"y","type":"quantitative","scale":{"domain":[3.0037,3.113]},"axis":{"values":[3.02,3.06,3.1],"labels":false,"title":null}},"order":{"field":"i"}},"layer":[{"transform":[{"filter":"datum.k=='a'"}],"mark":{"type":"line","interpolate":"basis-closed","fill":"#c998c9","stroke":"#b67fb6","strokeWidth":1,"clip":true}},{"transform":[{"filter":"datum.k=='b'"}],"mark":{"type":"line","interpolate":"basis-closed","fill":"#800080","stroke":"#800080","strokeWidth":0.5,"clip":true}},{"transform":[{"filter":"datum.k>'b'"}],"mark":{"type":"line","interpolate":"basis-closed","stroke":"#ff8c00","strokeWidth":1.6,"clip":true},"encoding":{"detail":{"field":"k"}}}]},
{"width":128,"height":133.5,"data":{"name":"r4c3"},"encoding":{"x":{"field":"x","type":"quantitative","scale":{"domain":[0.010397,0.0104189]},"axis":{"values":[0.01041],"labels":false,"title":null}},"y":{"field":"y","type":"quantitative","scale":{"domain":[3.0037,3.113]},"axis":{"values":[3.02,3.06,3.1],"labels":false,"title":null}},"order":{"field":"i"}},"layer":[{"transform":[{"filter":"datum.k=='a'"}],"mark":{"type":"line","interpolate":"basis-closed","fill":"#c998c9","stroke":"#b67fb6","strokeWidth":1,"clip":true}},{"transform":[{"filter":"datum.k=='b'"}],"mark":{"type":"line","interpolate":"basis-closed","fill":"#800080","stroke":"#800080","strokeWidth":0.5,"clip":true}},{"transform":[{"filter":"datum.k>'b'"}],"mark":{"type":"line","interpolate":"basis-closed","stroke":"#ff8c00","strokeWidth":1.6,"clip":true},"encoding":{"detail":{"field":"k"}}}]},
{"width":128,"height":133.5,"data":{"name":"d4"},"encoding":{"x":{"field":"x","type":"quantitative","scale":{"domain":[3.0037,3.113]},"axis":{"values":[3.02,3.06],"labels":false,"title":null}},"y":{"field":"y","type":"quantitative","scale":{"domain":[0,1.1]},"axis":null}},"layer":[
 {"transform":[{"filter":"datum.s=='p'"}],"mark":{"type":"line","interpolate":"monotone","stroke":"#800080","strokeWidth":3,"clip":true}},
 {"transform":[{"filter":"datum.s=='o'"}],"mark":{"type":"line","interpolate":"monotone","stroke":"#ff8c00","strokeWidth":3.5,"clip":true}},
 {"transform":[{"filter":"datum.s=='n'"}],"mark":{"type":"line","interpolate":"monotone","stroke":"#000080","strokeWidth":1.6,"strokeDash":[5,3],"clip":true}},
 {"transform":[{"filter":"datum.s=='q'"}],"mark":{"type":"line","interpolate":"monotone","stroke":"#ff8c00","strokeWidth":1.6,"strokeDash":[5,3],"clip":true}}]},
{"width":128,"height":133.5,"data":{"name":"r4c5"},"encoding":{"x":{"field":"x","type":"quantitative","scale":{"domain":[0.9414,0.9872]},"axis":{"values":[0.96,0.98],"labels":false,"title":null}},"y":{"field":"y","type":"quantitative","scale":{"domain":[3.0037,3.113]},"axis":{"values":[3.02,3.06,3.1],"labels":false,"title":null}},"order":{"field":"i"}},"layer":[{"transform":[{"filter":"datum.k=='a'"}],"mark":{"type":"line","interpolate":"basis-closed","fill":"#9898cc","stroke":"#7373b9","strokeWidth":1,"clip":true}},{"transform":[{"filter":"datum.k=='b'"}],"mark":{"type":"line","interpolate":"basis-closed","fill":"#000080","stroke":"#000080","strokeWidth":0.5,"clip":true}},{"transform":[{"filter":"datum.k>'b'"}],"mark":{"type":"line","interpolate":"basis-closed","stroke":"#ff8c00","strokeWidth":1.6,"clip":true},"encoding":{"detail":{"field":"k"}}}]},
{"width":128,"height":133.5,"data":{"name":"r4c6"},"encoding":{"x":{"field":"x","type":"quantitative","scale":{"domain":[0.0367,0.0929]},"axis":{"values":[0.06,0.08],"labels":false,"title":null}},"y":{"field":"y","type":"quantitative","scale":{"domain":[3.0037,3.113]},"axis":{"values":[3.02,3.06,3.1],"labels":false,"title":null}},"order":{"field":"i"}},"layer":[{"transform":[{"filter":"datum.k=='a'"}],"mark":{"type":"line","interpolate":"basis-closed","fill":"#9898cc","stroke":"#7373b9","strokeWidth":1,"clip":true}},{"transform":[{"filter":"datum.k=='b'"}],"mark":{"type":"line","interpolate":"basis-closed","fill":"#000080","stroke":"#000080","strokeWidth":0.5,"clip":true}},{"transform":[{"filter":"datum.k>'b'"}],"mark":{"type":"line","interpolate":"basis-closed","stroke":"#ff8c00","strokeWidth":1.6,"clip":true},"encoding":{"detail":{"field":"k"}}}]},
{"width":128,"height":133.5,"data":{"name":"r4c7"},"encoding":{"x":{"field":"x","type":"quantitative","scale":{"domain":[0,0.69]},"axis":{"values":[0.2,0.4,0.6],"labels":false,"title":null}},"y":{"field":"y","type":"quantitative","scale":{"domain":[3.0037,3.113]},"axis":{"values":[3.02,3.06,3.1],"labels":false,"title":null}},"order":{"field":"i"}},"layer":[{"transform":[{"filter":"datum.k=='a'"}],"mark":{"type":"line","interpolate":"basis-closed","fill":"#9898cc","stroke":"#7373b9","strokeWidth":1,"clip":true}},{"transform":[{"filter":"datum.k=='b'"}],"mark":{"type":"line","interpolate":"basis-closed","fill":"#000080","stroke":"#000080","strokeWidth":0.5,"clip":true}}]},

{"width":128,"height":133.5,"data":{"name":"r5c1"},"encoding":{"x":{"field":"x","type":"quantitative","scale":{"domain":[0.02184,0.023]},"axis":{"values":[0.0221,0.0227],"labels":false,"title":null}},"y":{"field":"y","type":"quantitative","scale":{"domain":[0.9414,0.9872]},"axis":{"values":[0.95,0.96,0.97,0.98],"format":".2f","title":"nₛ","tickSize":4}},"order":{"field":"i"}},"layer":[{"transform":[{"filter":"datum.k=='a'"}],"mark":{"type":"line","interpolate":"basis-closed","fill":"#c998c9","stroke":"#b67fb6","strokeWidth":1,"clip":true}},{"transform":[{"filter":"datum.k=='b'"}],"mark":{"type":"line","interpolate":"basis-closed","fill":"#800080","stroke":"#800080","strokeWidth":0.5,"clip":true}},{"transform":[{"filter":"datum.k>'b'"}],"mark":{"type":"line","interpolate":"basis-closed","stroke":"#ff8c00","strokeWidth":1.6,"clip":true},"encoding":{"detail":{"field":"k"}}}]},
{"width":128,"height":133.5,"data":{"name":"r5c2"},"encoding":{"x":{"field":"x","type":"quantitative","scale":{"domain":[0.1149,0.1252]},"axis":{"values":[0.118,0.122],"labels":false,"title":null}},"y":{"field":"y","type":"quantitative","scale":{"domain":[0.9414,0.9872]},"axis":{"values":[0.95,0.96,0.97,0.98],"labels":false,"title":null}},"order":{"field":"i"}},"layer":[{"transform":[{"filter":"datum.k=='a'"}],"mark":{"type":"line","interpolate":"basis-closed","fill":"#c998c9","stroke":"#b67fb6","strokeWidth":1,"clip":true}},{"transform":[{"filter":"datum.k=='b'"}],"mark":{"type":"line","interpolate":"basis-closed","fill":"#800080","stroke":"#800080","strokeWidth":0.5,"clip":true}},{"transform":[{"filter":"datum.k>'b'"}],"mark":{"type":"line","interpolate":"basis-closed","stroke":"#ff8c00","strokeWidth":1.6,"clip":true},"encoding":{"detail":{"field":"k"}}}]},
{"width":128,"height":133.5,"data":{"name":"r5c3"},"encoding":{"x":{"field":"x","type":"quantitative","scale":{"domain":[0.010397,0.0104189]},"axis":{"values":[0.01041],"labels":false,"title":null}},"y":{"field":"y","type":"quantitative","scale":{"domain":[0.9414,0.9872]},"axis":{"values":[0.95,0.96,0.97,0.98],"labels":false,"title":null}},"order":{"field":"i"}},"layer":[{"transform":[{"filter":"datum.k=='a'"}],"mark":{"type":"line","interpolate":"basis-closed","fill":"#c998c9","stroke":"#b67fb6","strokeWidth":1,"clip":true}},{"transform":[{"filter":"datum.k=='b'"}],"mark":{"type":"line","interpolate":"basis-closed","fill":"#800080","stroke":"#800080","strokeWidth":0.5,"clip":true}},{"transform":[{"filter":"datum.k>'b'"}],"mark":{"type":"line","interpolate":"basis-closed","stroke":"#ff8c00","strokeWidth":1.6,"clip":true},"encoding":{"detail":{"field":"k"}}}]},
{"width":128,"height":133.5,"data":{"name":"r5c4"},"encoding":{"x":{"field":"x","type":"quantitative","scale":{"domain":[3.0037,3.113]},"axis":{"values":[3.02,3.06],"labels":false,"title":null}},"y":{"field":"y","type":"quantitative","scale":{"domain":[0.9414,0.9872]},"axis":{"values":[0.95,0.96,0.97,0.98],"labels":false,"title":null}},"order":{"field":"i"}},"layer":[{"transform":[{"filter":"datum.k=='a'"}],"mark":{"type":"line","interpolate":"basis-closed","fill":"#c998c9","stroke":"#b67fb6","strokeWidth":1,"clip":true}},{"transform":[{"filter":"datum.k=='b'"}],"mark":{"type":"line","interpolate":"basis-closed","fill":"#800080","stroke":"#800080","strokeWidth":0.5,"clip":true}},{"transform":[{"filter":"datum.k>'b'"}],"mark":{"type":"line","interpolate":"basis-closed","stroke":"#ff8c00","strokeWidth":1.6,"clip":true},"encoding":{"detail":{"field":"k"}}}]},
{"width":128,"height":133.5,"data":{"name":"d5"},"encoding":{"x":{"field":"x","type":"quantitative","scale":{"domain":[0.9414,0.9872]},"axis":{"values":[0.96,0.98],"labels":false,"title":null}},"y":{"field":"y","type":"quantitative","scale":{"domain":[0,1.1]},"axis":null}},"layer":[
 {"transform":[{"filter":"datum.s=='p'"}],"mark":{"type":"line","interpolate":"monotone","stroke":"#800080","strokeWidth":3,"clip":true}},
 {"transform":[{"filter":"datum.s=='o'"}],"mark":{"type":"line","interpolate":"monotone","stroke":"#ff8c00","strokeWidth":3.5,"clip":true}},
 {"transform":[{"filter":"datum.s=='n'"}],"mark":{"type":"line","interpolate":"monotone","stroke":"#000080","strokeWidth":1.6,"strokeDash":[5,3],"clip":true}},
 {"transform":[{"filter":"datum.s=='q'"}],"mark":{"type":"line","interpolate":"monotone","stroke":"#ff8c00","strokeWidth":1.6,"strokeDash":[5,3],"clip":true}}]},
{"width":128,"height":133.5,"data":{"name":"r5c6"},"encoding":{"x":{"field":"x","type":"quantitative","scale":{"domain":[0.0367,0.0929]},"axis":{"values":[0.06,0.08],"labels":false,"title":null}},"y":{"field":"y","type":"quantitative","scale":{"domain":[0.9414,0.9872]},"axis":{"values":[0.95,0.96,0.97,0.98],"labels":false,"title":null}},"order":{"field":"i"}},"layer":[{"transform":[{"filter":"datum.k=='a'"}],"mark":{"type":"line","interpolate":"basis-closed","fill":"#9898cc","stroke":"#7373b9","strokeWidth":1,"clip":true}},{"transform":[{"filter":"datum.k=='b'"}],"mark":{"type":"line","interpolate":"basis-closed","fill":"#000080","stroke":"#000080","strokeWidth":0.5,"clip":true}},{"transform":[{"filter":"datum.k>'b'"}],"mark":{"type":"line","interpolate":"basis-closed","stroke":"#ff8c00","strokeWidth":1.6,"clip":true},"encoding":{"detail":{"field":"k"}}}]},
{"width":128,"height":133.5,"data":{"name":"r5c7"},"encoding":{"x":{"field":"x","type":"quantitative","scale":{"domain":[0,0.69]},"axis":{"values":[0.2,0.4,0.6],"labels":false,"title":null}},"y":{"field":"y","type":"quantitative","scale":{"domain":[0.9414,0.9872]},"axis":{"values":[0.95,0.96,0.97,0.98],"labels":false,"title":null}},"order":{"field":"i"}},"layer":[{"transform":[{"filter":"datum.k=='a'"}],"mark":{"type":"line","interpolate":"basis-closed","fill":"#9898cc","stroke":"#7373b9","strokeWidth":1,"clip":true}},{"transform":[{"filter":"datum.k=='b'"}],"mark":{"type":"line","interpolate":"basis-closed","fill":"#000080","stroke":"#000080","strokeWidth":0.5,"clip":true}}]},

{"width":128,"height":133.5,"data":{"name":"r6c1"},"encoding":{"x":{"field":"x","type":"quantitative","scale":{"domain":[0.02184,0.023]},"axis":{"values":[0.0221,0.0227],"labels":false,"title":null}},"y":{"field":"y","type":"quantitative","scale":{"domain":[0.0367,0.0929]},"axis":{"values":[0.05,0.06,0.07,0.08],"format":".2f","title":"τᵣₑᵢₒ","tickSize":4}},"order":{"field":"i"}},"layer":[{"transform":[{"filter":"datum.k=='a'"}],"mark":{"type":"line","interpolate":"basis-closed","fill":"#c998c9","stroke":"#b67fb6","strokeWidth":1,"clip":true}},{"transform":[{"filter":"datum.k=='b'"}],"mark":{"type":"line","interpolate":"basis-closed","fill":"#800080","stroke":"#800080","strokeWidth":0.5,"clip":true}},{"transform":[{"filter":"datum.k>'b'"}],"mark":{"type":"line","interpolate":"basis-closed","stroke":"#ff8c00","strokeWidth":1.6,"clip":true},"encoding":{"detail":{"field":"k"}}}]},
{"width":128,"height":133.5,"data":{"name":"r6c2"},"encoding":{"x":{"field":"x","type":"quantitative","scale":{"domain":[0.1149,0.1252]},"axis":{"values":[0.118,0.122],"labels":false,"title":null}},"y":{"field":"y","type":"quantitative","scale":{"domain":[0.0367,0.0929]},"axis":{"values":[0.05,0.06,0.07,0.08],"labels":false,"title":null}},"order":{"field":"i"}},"layer":[{"transform":[{"filter":"datum.k=='a'"}],"mark":{"type":"line","interpolate":"basis-closed","fill":"#c998c9","stroke":"#b67fb6","strokeWidth":1,"clip":true}},{"transform":[{"filter":"datum.k=='b'"}],"mark":{"type":"line","interpolate":"basis-closed","fill":"#800080","stroke":"#800080","strokeWidth":0.5,"clip":true}},{"transform":[{"filter":"datum.k>'b'"}],"mark":{"type":"line","interpolate":"basis-closed","stroke":"#ff8c00","strokeWidth":1.6,"clip":true},"encoding":{"detail":{"field":"k"}}}]},
{"width":128,"height":133.5,"data":{"name":"r6c3"},"encoding":{"x":{"field":"x","type":"quantitative","scale":{"domain":[0.010397,0.0104189]},"axis":{"values":[0.01041],"labels":false,"title":null}},"y":{"field":"y","type":"quantitative","scale":{"domain":[0.0367,0.0929]},"axis":{"values":[0.05,0.06,0.07,0.08],"labels":false,"title":null}},"order":{"field":"i"}},"layer":[{"transform":[{"filter":"datum.k=='a'"}],"mark":{"type":"line","interpolate":"basis-closed","fill":"#c998c9","stroke":"#b67fb6","strokeWidth":1,"clip":true}},{"transform":[{"filter":"datum.k=='b'"}],"mark":{"type":"line","interpolate":"basis-closed","fill":"#800080","stroke":"#800080","strokeWidth":0.5,"clip":true}},{"transform":[{"filter":"datum.k>'b'"}],"mark":{"type":"line","interpolate":"basis-closed","stroke":"#ff8c00","strokeWidth":1.6,"clip":true},"encoding":{"detail":{"field":"k"}}}]},
{"width":128,"height":133.5,"data":{"name":"r6c4"},"encoding":{"x":{"field":"x","type":"quantitative","scale":{"domain":[3.0037,3.113]},"axis":{"values":[3.02,3.06],"labels":false,"title":null}},"y":{"field":"y","type":"quantitative","scale":{"domain":[0.0367,0.0929]},"axis":{"values":[0.05,0.06,0.07,0.08],"labels":false,"title":null}},"order":{"field":"i"}},"layer":[{"transform":[{"filter":"datum.k=='a'"}],"mark":{"type":"line","interpolate":"basis-closed","fill":"#c998c9","stroke":"#b67fb6","strokeWidth":1,"clip":true}},{"transform":[{"filter":"datum.k=='b'"}],"mark":{"type":"line","interpolate":"basis-closed","fill":"#800080","stroke":"#800080","strokeWidth":0.5,"clip":true}},{"transform":[{"filter":"datum.k>'b'"}],"mark":{"type":"line","interpolate":"basis-closed","stroke":"#ff8c00","strokeWidth":1.6,"clip":true},"encoding":{"detail":{"field":"k"}}}]},
{"width":128,"height":133.5,"data":{"name":"r6c5"},"encoding":{"x":{"field":"x","type":"quantitative","scale":{"domain":[0.9414,0.9872]},"axis":{"values":[0.96,0.98],"labels":false,"title":null}},"y":{"field":"y","type":"quantitative","scale":{"domain":[0.0367,0.0929]},"axis":{"values":[0.05,0.06,0.07,0.08],"labels":false,"title":null}},"order":{"field":"i"}},"layer":[{"transform":[{"filter":"datum.k=='a'"}],"mark":{"type":"line","interpolate":"basis-closed","fill":"#c998c9","stroke":"#b67fb6","strokeWidth":1,"clip":true}},{"transform":[{"filter":"datum.k=='b'"}],"mark":{"type":"line","interpolate":"basis-closed","fill":"#800080","stroke":"#800080","strokeWidth":0.5,"clip":true}},{"transform":[{"filter":"datum.k>'b'"}],"mark":{"type":"line","interpolate":"basis-closed","stroke":"#ff8c00","strokeWidth":1.6,"clip":true},"encoding":{"detail":{"field":"k"}}}]},
{"width":128,"height":133.5,"data":{"name":"d6"},"encoding":{"x":{"field":"x","type":"quantitative","scale":{"domain":[0.0367,0.0929]},"axis":{"values":[0.06,0.08],"labels":false,"title":null}},"y":{"field":"y","type":"quantitative","scale":{"domain":[0,1.1]},"axis":null}},"layer":[
 {"transform":[{"filter":"datum.s=='p'"}],"mark":{"type":"line","interpolate":"monotone","stroke":"#800080","strokeWidth":3,"clip":true}},
 {"transform":[{"filter":"datum.s=='o'"}],"mark":{"type":"line","interpolate":"monotone","stroke":"#ff8c00","strokeWidth":3.5,"clip":true}},
 {"transform":[{"filter":"datum.s=='n'"}],"mark":{"type":"line","interpolate":"monotone","stroke":"#000080","strokeWidth":1.6,"strokeDash":[5,3],"clip":true}},
 {"transform":[{"filter":"datum.s=='q'"}],"mark":{"type":"line","interpolate":"monotone","stroke":"#ff8c00","strokeWidth":1.6,"strokeDash":[5,3],"clip":true}}]},
{"width":128,"height":133.5,"data":{"name":"r6c7"},"encoding":{"x":{"field":"x","type":"quantitative","scale":{"domain":[0,0.69]},"axis":{"values":[0.2,0.4,0.6],"labels":false,"title":null}},"y":{"field":"y","type":"quantitative","scale":{"domain":[0.0367,0.0929]},"axis":{"values":[0.05,0.06,0.07,0.08],"labels":false,"title":null}},"order":{"field":"i"}},"layer":[{"transform":[{"filter":"datum.k=='a'"}],"mark":{"type":"line","interpolate":"basis-closed","fill":"#9898cc","stroke":"#7373b9","strokeWidth":1,"clip":true}},{"transform":[{"filter":"datum.k=='b'"}],"mark":{"type":"line","interpolate":"basis-closed","fill":"#000080","stroke":"#000080","strokeWidth":0.5,"clip":true}}]},

{"width":128,"height":133.5,"data":{"name":"r7c1"},"encoding":{"x":{"field":"x","type":"quantitative","scale":{"domain":[0.02184,0.023]},"axis":{"values":[0.0221,0.0227],"format":".4f","title":"Ωbh²","tickSize":4}},"y":{"field":"y","type":"quantitative","scale":{"domain":[0,0.69]},"axis":{"values":[0.2,0.4,0.6],"format":".1f","title":"2g²P∗","tickSize":4}},"order":{"field":"i"}},"layer":[{"transform":[{"filter":"datum.k=='a'"}],"mark":{"type":"line","interpolate":"basis-closed","fill":"#c998c9","stroke":"#b67fb6","strokeWidth":1,"clip":true}},{"transform":[{"filter":"datum.k=='b'"}],"mark":{"type":"line","interpolate":"basis-closed","fill":"#800080","stroke":"#800080","strokeWidth":0.5,"clip":true}}]},
{"width":128,"height":133.5,"data":{"name":"r7c2"},"encoding":{"x":{"field":"x","type":"quantitative","scale":{"domain":[0.1149,0.1252]},"axis":{"values":[0.118,0.122],"format":".3f","title":"Ωch²","tickSize":4}},"y":{"field":"y","type":"quantitative","scale":{"domain":[0,0.69]},"axis":{"values":[0.2,0.4,0.6],"labels":false,"title":null}},"order":{"field":"i"}},"layer":[{"transform":[{"filter":"datum.k=='a'"}],"mark":{"type":"line","interpolate":"basis-closed","fill":"#c998c9","stroke":"#b67fb6","strokeWidth":1,"clip":true}},{"transform":[{"filter":"datum.k=='b'"}],"mark":{"type":"line","interpolate":"basis-closed","fill":"#800080","stroke":"#800080","strokeWidth":0.5,"clip":true}}]},
{"width":128,"height":133.5,"data":{"name":"r7c3"},"encoding":{"x":{"field":"x","type":"quantitative","scale":{"domain":[0.010397,0.0104189]},"axis":{"values":[0.01041],"format":".5f","title":"θMC","tickSize":4}},"y":{"field":"y","type":"quantitative","scale":{"domain":[0,0.69]},"axis":{"values":[0.2,0.4,0.6],"labels":false,"title":null}},"order":{"field":"i"}},"layer":[{"transform":[{"filter":"datum.k=='a'"}],"mark":{"type":"line","interpolate":"basis-closed","fill":"#c998c9","stroke":"#b67fb6","strokeWidth":1,"clip":true}},{"transform":[{"filter":"datum.k=='b'"}],"mark":{"type":"line","interpolate":"basis-closed","fill":"#800080","stroke":"#800080","strokeWidth":0.5,"clip":true}}]},
{"width":128,"height":133.5,"data":{"name":"r7c4"},"encoding":{"x":{"field":"x","type":"quantitative","scale":{"domain":[3.0037,3.113]},"axis":{"values":[3.02,3.06],"format":".2f","title":"log(10¹⁰Aₛ)","tickSize":4}},"y":{"field":"y","type":"quantitative","scale":{"domain":[0,0.69]},"axis":{"values":[0.2,0.4,0.6],"labels":false,"title":null}},"order":{"field":"i"}},"layer":[{"transform":[{"filter":"datum.k=='a'"}],"mark":{"type":"line","interpolate":"basis-closed","fill":"#c998c9","stroke":"#b67fb6","strokeWidth":1,"clip":true}},{"transform":[{"filter":"datum.k=='b'"}],"mark":{"type":"line","interpolate":"basis-closed","fill":"#800080","stroke":"#800080","strokeWidth":0.5,"clip":true}}]},
{"width":128,"height":133.5,"data":{"name":"r7c5"},"encoding":{"x":{"field":"x","type":"quantitative","scale":{"domain":[0.9414,0.9872]},"axis":{"values":[0.96,0.98],"format":".2f","title":"nₛ","tickSize":4}},"y":{"field":"y","type":"quantitative","scale":{"domain":[0,0.69]},"axis":{"values":[0.2,0.4,0.6],"labels":false,"title":null}},"order":{"field":"i"}},"layer":[{"transform":[{"filter":"datum.k=='a'"}],"mark":{"type":"line","interpolate":"basis-closed","fill":"#c998c9","stroke":"#b67fb6","strokeWidth":1,"clip":true}},{"transform":[{"filter":"datum.k=='b'"}],"mark":{"type":"line","interpolate":"basis-closed","fill":"#800080","stroke":"#800080","strokeWidth":0.5,"clip":true}}]},
{"width":128,"height":133.5,"data":{"name":"r7c6"},"encoding":{"x":{"field":"x","type":"quantitative","scale":{"domain":[0.0367,0.0929]},"axis":{"values":[0.06,0.08],"format":".2f","title":"τᵣₑᵢₒ","tickSize":4}},"y":{"field":"y","type":"quantitative","scale":{"domain":[0,0.69]},"axis":{"values":[0.2,0.4,0.6],"labels":false,"title":null}},"order":{"field":"i"}},"layer":[{"transform":[{"filter":"datum.k=='a'"}],"mark":{"type":"line","interpolate":"basis-closed","fill":"#c998c9","stroke":"#b67fb6","strokeWidth":1,"clip":true}},{"transform":[{"filter":"datum.k=='b'"}],"mark":{"type":"line","interpolate":"basis-closed","fill":"#800080","stroke":"#800080","strokeWidth":0.5,"clip":true}}]},
{"width":128,"height":133.5,"data":{"name":"d7"},"encoding":{"x":{"field":"x","type":"quantitative","scale":{"domain":[0,0.69]},"axis":{"values":[0.2,0.4,0.6],"format":".1f","title":"2g²P∗","tickSize":4}},"y":{"field":"y","type":"quantitative","scale":{"domain":[0,1.1]},"axis":null}},"layer":[
 {"transform":[{"filter":"datum.s=='p'"}],"mark":{"type":"line","interpolate":"monotone","stroke":"#800080","strokeWidth":3,"clip":true}},
 {"transform":[{"filter":"datum.s=='n'"}],"mark":{"type":"line","interpolate":"monotone","stroke":"#000080","strokeWidth":1.6,"strokeDash":[5,3],"clip":true}}]}
]}
]
}
